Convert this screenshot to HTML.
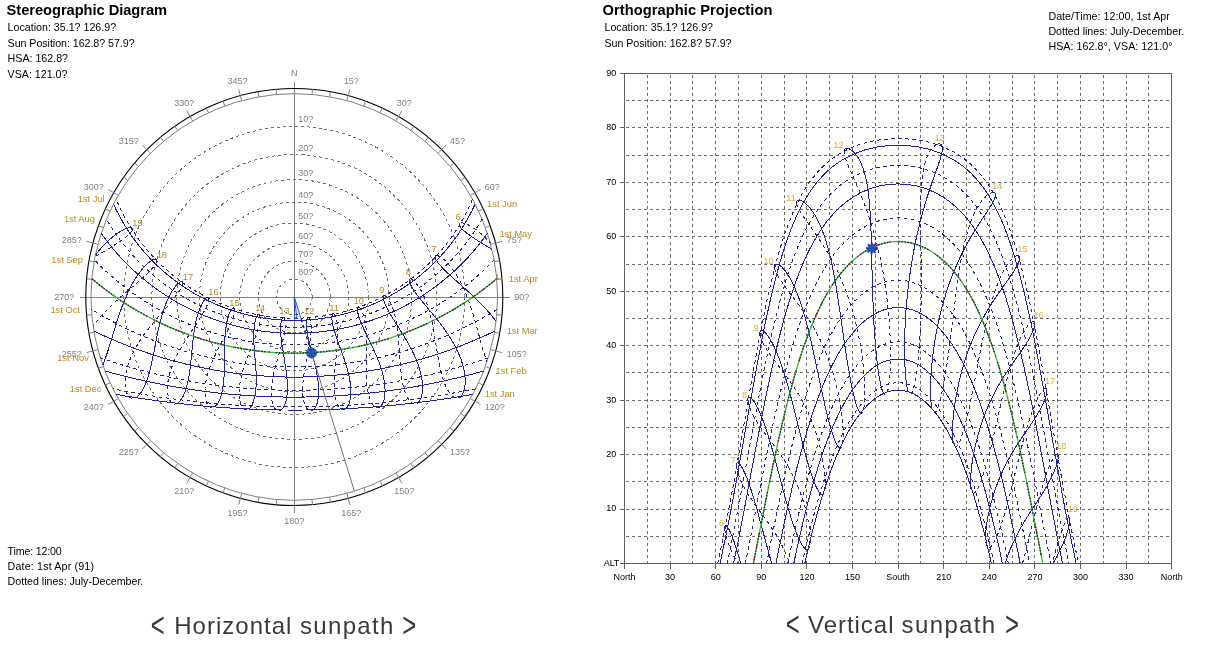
<!DOCTYPE html>
<html><head><meta charset="utf-8"><title>Sunpath</title>
<style>html,body{margin:0;padding:0;background:#fff;overflow:hidden}svg{display:block;font-family:"Liberation Sans",sans-serif;}</style></head><body>
<svg width="1217" height="672" viewBox="0 0 1217 672">
<rect width="1217" height="672" fill="#fff"/>
<text x="6.6" y="15" font-size="14.67" fill="#000" text-anchor="start" font-weight="bold" textLength="160.5">Stereographic Diagram</text>
<text x="7.6" y="30.9" font-size="10.67" fill="#000" text-anchor="start" font-weight="normal" textLength="108.5">Location: 35.1? 126.9?</text>
<text x="7.6" y="46.5" font-size="10.67" fill="#000" text-anchor="start" font-weight="normal" textLength="127">Sun Position: 162.8? 57.9?</text>
<text x="7.6" y="62" font-size="10.67" fill="#000" text-anchor="start" font-weight="normal" >HSA: 162.8?</text>
<text x="7.6" y="77.6" font-size="10.67" fill="#000" text-anchor="start" font-weight="normal" >VSA: 121.0?</text>
<text x="7.6" y="554.7" font-size="10.67" fill="#000" text-anchor="start" font-weight="normal" textLength="54">Time: 12:00</text>
<text x="7.6" y="569.7" font-size="10.67" fill="#000" text-anchor="start" font-weight="normal" textLength="86.4">Date: 1st Apr (91)</text>
<text x="7.6" y="584.7" font-size="10.67" fill="#000" text-anchor="start" font-weight="normal" textLength="135.7">Dotted lines: July-December.</text>
<text transform="translate(150.8,636.8) scale(1,1.46)" font-size="24" fill="#3a3a3a">&lt;</text>
<text x="174.2" y="633.8" font-size="24" fill="#3a3a3a" text-anchor="start" font-weight="normal" textLength="117.2" lengthAdjust="spacing">Horizontal</text>
<text x="299.9" y="633.8" font-size="24" fill="#3a3a3a" text-anchor="start" font-weight="normal" textLength="93.5" lengthAdjust="spacing">sunpath</text>
<text transform="translate(402.2,636.8) scale(1,1.46)" font-size="24" fill="#3a3a3a">&gt;</text>
<g fill="none" stroke="#707070" stroke-width="1" stroke-dasharray="3 3" shape-rendering="crispEdges">
<circle cx="294.3" cy="297" r="170.6"/>
<circle cx="294.3" cy="297" r="142.4"/>
<circle cx="294.3" cy="297" r="117.4"/>
<circle cx="294.3" cy="297" r="94.8"/>
<circle cx="294.3" cy="297" r="74"/>
<circle cx="294.3" cy="297" r="54.5"/>
<circle cx="294.3" cy="297" r="35.8"/>
<circle cx="294.3" cy="297" r="17.8"/>
</g>
<g stroke="#808080" stroke-width="1" shape-rendering="crispEdges">
<line x1="294.3" y1="81.5" x2="294.3" y2="513"/>
<line x1="79.5" y1="297" x2="510" y2="297"/>
</g>
<circle cx="294.3" cy="297" r="203.3" fill="none" stroke="#808080" stroke-width="1"/>
<circle cx="294.3" cy="297" r="208.5" fill="none" stroke="#000" stroke-width="1.1"/>
<g stroke="#808080" stroke-width="1">
<line x1="312.0" y1="94.5" x2="312.5" y2="89.3"/>
<line x1="329.6" y1="96.8" x2="330.5" y2="91.7"/>
<line x1="346.9" y1="100.6" x2="349.9" y2="89.3"/>
<line x1="363.8" y1="106.0" x2="365.6" y2="101.1"/>
<line x1="380.2" y1="112.7" x2="382.4" y2="108.0"/>
<line x1="395.9" y1="120.9" x2="401.8" y2="110.8"/>
<line x1="410.9" y1="130.5" x2="413.9" y2="126.2"/>
<line x1="425.0" y1="141.3" x2="428.3" y2="137.3"/>
<line x1="438.1" y1="153.2" x2="446.3" y2="145.0"/>
<line x1="450.0" y1="166.3" x2="454.0" y2="163.0"/>
<line x1="460.8" y1="180.4" x2="465.1" y2="177.4"/>
<line x1="470.4" y1="195.3" x2="480.5" y2="189.5"/>
<line x1="478.6" y1="211.1" x2="483.3" y2="208.9"/>
<line x1="485.3" y1="227.5" x2="490.2" y2="225.7"/>
<line x1="490.7" y1="244.4" x2="502.0" y2="241.4"/>
<line x1="494.5" y1="261.7" x2="499.6" y2="260.8"/>
<line x1="496.8" y1="279.3" x2="502.0" y2="278.8"/>
<line x1="496.8" y1="314.7" x2="502.0" y2="315.2"/>
<line x1="494.5" y1="332.3" x2="499.6" y2="333.2"/>
<line x1="490.7" y1="349.6" x2="502.0" y2="352.6"/>
<line x1="485.3" y1="366.5" x2="490.2" y2="368.3"/>
<line x1="478.6" y1="382.9" x2="483.3" y2="385.1"/>
<line x1="470.4" y1="398.6" x2="480.5" y2="404.5"/>
<line x1="460.8" y1="413.6" x2="465.1" y2="416.6"/>
<line x1="450.0" y1="427.7" x2="454.0" y2="431.0"/>
<line x1="438.1" y1="440.8" x2="446.3" y2="449.0"/>
<line x1="425.0" y1="452.7" x2="428.3" y2="456.7"/>
<line x1="410.9" y1="463.5" x2="413.9" y2="467.8"/>
<line x1="395.9" y1="473.1" x2="401.8" y2="483.2"/>
<line x1="380.2" y1="481.3" x2="382.4" y2="486.0"/>
<line x1="363.8" y1="488.0" x2="365.6" y2="492.9"/>
<line x1="346.9" y1="493.4" x2="349.9" y2="504.7"/>
<line x1="329.6" y1="497.2" x2="330.5" y2="502.3"/>
<line x1="312.0" y1="499.5" x2="312.5" y2="504.7"/>
<line x1="276.6" y1="499.5" x2="276.1" y2="504.7"/>
<line x1="259.0" y1="497.2" x2="258.1" y2="502.3"/>
<line x1="241.7" y1="493.4" x2="238.7" y2="504.7"/>
<line x1="224.8" y1="488.0" x2="223.0" y2="492.9"/>
<line x1="208.4" y1="481.3" x2="206.2" y2="486.0"/>
<line x1="192.6" y1="473.1" x2="186.8" y2="483.2"/>
<line x1="177.7" y1="463.5" x2="174.7" y2="467.8"/>
<line x1="163.6" y1="452.7" x2="160.3" y2="456.7"/>
<line x1="150.5" y1="440.8" x2="142.3" y2="449.0"/>
<line x1="138.6" y1="427.7" x2="134.6" y2="431.0"/>
<line x1="127.8" y1="413.6" x2="123.5" y2="416.6"/>
<line x1="118.2" y1="398.7" x2="108.1" y2="404.5"/>
<line x1="110.0" y1="382.9" x2="105.3" y2="385.1"/>
<line x1="103.3" y1="366.5" x2="98.4" y2="368.3"/>
<line x1="97.9" y1="349.6" x2="86.6" y2="352.6"/>
<line x1="94.1" y1="332.3" x2="89.0" y2="333.2"/>
<line x1="91.8" y1="314.7" x2="86.6" y2="315.2"/>
<line x1="91.8" y1="279.3" x2="86.6" y2="278.8"/>
<line x1="94.1" y1="261.7" x2="89.0" y2="260.8"/>
<line x1="97.9" y1="244.4" x2="86.6" y2="241.4"/>
<line x1="103.3" y1="227.5" x2="98.4" y2="225.7"/>
<line x1="110.0" y1="211.1" x2="105.3" y2="208.9"/>
<line x1="118.2" y1="195.3" x2="108.1" y2="189.5"/>
<line x1="127.8" y1="180.4" x2="123.5" y2="177.4"/>
<line x1="138.6" y1="166.3" x2="134.6" y2="163.0"/>
<line x1="150.5" y1="153.2" x2="142.3" y2="145.0"/>
<line x1="163.6" y1="141.3" x2="160.3" y2="137.3"/>
<line x1="177.7" y1="130.5" x2="174.7" y2="126.2"/>
<line x1="192.6" y1="120.9" x2="186.8" y2="110.8"/>
<line x1="208.4" y1="112.7" x2="206.2" y2="108.0"/>
<line x1="224.8" y1="106.0" x2="223.0" y2="101.1"/>
<line x1="241.7" y1="100.6" x2="238.7" y2="89.3"/>
<line x1="259.0" y1="96.8" x2="258.1" y2="91.7"/>
<line x1="276.6" y1="94.5" x2="276.1" y2="89.3"/>
</g>
<g font-size="9" fill="#808080">
<text x="294.3" y="76.0" text-anchor="middle">N</text>
<text x="351.2" y="83.5" text-anchor="middle">15?</text>
<text x="404.3" y="105.5" text-anchor="middle">30?</text>
<text x="449.9" y="144.2" text-anchor="start">45?</text>
<text x="484.8" y="189.8" text-anchor="start">60?</text>
<text x="506.8" y="242.9" text-anchor="start">75?</text>
<text x="514.3" y="299.8" text-anchor="start">90?</text>
<text x="506.8" y="356.7" text-anchor="start">105?</text>
<text x="484.8" y="409.8" text-anchor="start">120?</text>
<text x="449.9" y="455.4" text-anchor="start">135?</text>
<text x="404.3" y="494.4" text-anchor="middle">150?</text>
<text x="351.2" y="516.4" text-anchor="middle">165?</text>
<text x="294.3" y="523.9" text-anchor="middle">180?</text>
<text x="237.4" y="516.4" text-anchor="middle">195?</text>
<text x="184.3" y="494.4" text-anchor="middle">210?</text>
<text x="138.7" y="455.4" text-anchor="end">225?</text>
<text x="103.8" y="409.8" text-anchor="end">240?</text>
<text x="81.8" y="356.7" text-anchor="end">255?</text>
<text x="74.3" y="299.8" text-anchor="end">270?</text>
<text x="81.8" y="242.9" text-anchor="end">285?</text>
<text x="103.8" y="189.8" text-anchor="end">300?</text>
<text x="138.7" y="144.2" text-anchor="end">315?</text>
<text x="184.3" y="105.5" text-anchor="middle">330?</text>
<text x="237.4" y="83.5" text-anchor="middle">345?</text>
</g>
<g font-size="9" fill="#808080">
<text x="298.3" y="122.4">10?</text>
<text x="298.3" y="150.6">20?</text>
<text x="298.3" y="175.6">30?</text>
<text x="298.3" y="198.2">40?</text>
<text x="298.3" y="219.0">50?</text>
<text x="298.3" y="238.5">60?</text>
<text x="298.3" y="257.2">70?</text>
<text x="298.3" y="275.2">80?</text>
</g>
<g fill="none" stroke="#2020a0" stroke-width="1.0" shape-rendering="crispEdges">
<polyline points="472.8,394.3 465.7,395.6 458.8,396.7 452.1,397.8 445.5,398.8 439,399.7 432.8,400.6 426.6,401.4 420.6,402.2 414.6,402.9 408.8,403.6 403.1,404.2 397.5,404.8 391.9,405.4 386.5,405.9 381.1,406.4 375.8,406.8 370.5,407.2 365.3,407.6 360.2,407.9 355.1,408.2 350.1,408.5 345.1,408.8 340.2,409 335.2,409.2 330.3,409.4 325.5,409.6 320.7,409.7 315.8,409.8 311,409.9 306.2,410 301.5,410 296.7,410.1 291.9,410.1 287.1,410 282.4,410 277.6,409.9 272.8,409.8 267.9,409.7 263.1,409.6 258.3,409.4 253.4,409.2 248.4,409 243.5,408.8 238.5,408.5 233.5,408.2 228.4,407.9 223.3,407.6 218.1,407.2 212.8,406.8 207.5,406.4 202.1,405.9 196.7,405.4 191.1,404.8 185.5,404.2 179.8,403.6 174,402.9 168,402.2 162,401.4 155.8,400.6 149.6,399.7 143.1,398.8 136.5,397.8 129.8,396.7 122.9,395.6 115.8,394.3" />
<polyline points="483.6,371 476.4,373 469.4,374.9 462.5,376.6 455.8,378.2 449.3,379.7 442.9,381.2 436.6,382.5 430.5,383.7 424.5,384.9 418.6,386 412.8,387 407.1,388 401.5,388.9 396,389.7 390.5,390.5 385.2,391.2 379.9,391.9 374.7,392.5 369.5,393.1 364.4,393.6 359.4,394.1 354.3,394.5 349.4,394.9 344.5,395.3 339.6,395.6 334.7,395.9 329.9,396.2 325.1,396.4 320.3,396.6 315.6,396.8 310.8,396.9 306.1,397 301.4,397.1 296.7,397.1 291.9,397.1 287.2,397.1 282.5,397 277.8,396.9 273,396.8 268.3,396.6 263.5,396.4 258.7,396.2 253.9,395.9 249,395.6 244.1,395.3 239.2,394.9 234.3,394.5 229.2,394.1 224.2,393.6 219.1,393.1 213.9,392.5 208.7,391.9 203.4,391.2 198.1,390.5 192.6,389.7 187.1,388.9 181.5,388 175.8,387 170,386 164.1,384.9 158.1,383.7 152,382.5 145.7,381.2 139.3,379.7 132.8,378.2 126.1,376.6 119.2,374.9 112.2,373 105,371" />
<polyline points="494.7,331.1 487.8,334.4 481,337.4 474.3,340.3 467.8,343 461.5,345.6 455.2,348 449.1,350.2 443.1,352.3 437.2,354.3 431.4,356.1 425.7,357.9 420.1,359.5 414.6,361 409.2,362.4 403.9,363.8 398.6,365.1 393.4,366.2 388.3,367.3 383.2,368.4 378.2,369.3 373.3,370.2 368.4,371 363.5,371.8 358.7,372.5 353.9,373.2 349.2,373.7 344.5,374.3 339.9,374.8 335.2,375.2 330.6,375.6 326,375.9 321.5,376.2 316.9,376.5 312.4,376.7 307.8,376.8 303.3,377 298.8,377 294.3,377 289.8,377 285.3,377 280.8,376.8 276.2,376.7 271.7,376.5 267.1,376.2 262.6,375.9 258,375.6 253.4,375.2 248.7,374.8 244.1,374.3 239.4,373.7 234.7,373.2 229.9,372.5 225.1,371.8 220.2,371 215.3,370.2 210.4,369.3 205.4,368.4 200.3,367.3 195.2,366.2 190,365.1 184.7,363.8 179.4,362.4 174,361 168.5,359.5 162.9,357.9 157.2,356.1 151.4,354.3 145.5,352.3 139.5,350.2 133.4,348 127.1,345.6 120.8,343 114.3,340.3 107.6,337.4 100.8,334.4 93.9,331.1" />
<polyline points="487.4,233.4 482.9,239.5 478.4,245.3 473.9,250.8 469.3,256 464.7,260.9 460,265.6 455.4,270 450.8,274.2 446.2,278.1 441.6,281.9 437,285.5 432.4,288.8 427.9,292 423.3,295 418.8,297.9 414.4,300.6 409.9,303.2 405.5,305.6 401.1,307.9 396.7,310 392.4,312 388.1,314 383.8,315.8 379.5,317.5 375.3,319 371.1,320.5 366.9,321.9 362.7,323.2 358.6,324.4 354.5,325.6 350.4,326.6 346.3,327.6 342.2,328.4 338.2,329.2 334.1,330 330.1,330.6 326.1,331.2 322.1,331.7 318.1,332.1 314.1,332.5 310.2,332.8 306.2,333 302.2,333.2 298.3,333.3 294.3,333.3 290.3,333.3 286.4,333.2 282.4,333 278.4,332.8 274.5,332.5 270.5,332.1 266.5,331.7 262.5,331.2 258.5,330.6 254.5,330 250.4,329.2 246.4,328.4 242.3,327.6 238.2,326.6 234.1,325.6 230,324.4 225.9,323.2 221.7,321.9 217.5,320.5 213.3,319 209.1,317.5 204.8,315.8 200.5,314 196.2,312 191.9,310 187.5,307.9 183.1,305.6 178.7,303.2 174.2,300.6 169.8,297.9 165.3,295 160.7,292 156.2,288.8 151.6,285.5 147,281.9 142.4,278.1 137.8,274.2 133.2,270 128.6,265.6 123.9,260.9 119.3,256 114.7,250.8 110.2,245.3 105.7,239.5 101.2,233.4" />
<polyline points="475.1,204.1 472,210.7 468.7,216.9 465.3,222.9 461.8,228.6 458.2,234.1 454.5,239.3 450.8,244.2 447,248.9 443.2,253.4 439.3,257.6 435.4,261.7 431.4,265.6 427.5,269.2 423.5,272.7 419.5,276 415.5,279.2 411.5,282.2 407.6,285 403.6,287.7 399.6,290.2 395.6,292.7 391.7,294.9 387.7,297.1 383.8,299.1 379.9,301.1 376,302.9 372.1,304.6 368.2,306.2 364.3,307.7 360.4,309.1 356.6,310.4 352.7,311.6 348.9,312.8 345.1,313.8 341.3,314.8 337.5,315.7 333.7,316.5 329.9,317.2 326.2,317.9 322.4,318.4 318.6,318.9 314.9,319.4 311.1,319.7 307.4,320 303.6,320.2 299.9,320.4 296.2,320.4 292.4,320.4 288.7,320.4 285,320.2 281.2,320 277.5,319.7 273.7,319.4 270,318.9 266.2,318.4 262.4,317.9 258.7,317.2 254.9,316.5 251.1,315.7 247.3,314.8 243.5,313.8 239.7,312.8 235.9,311.6 232,310.4 228.2,309.1 224.3,307.7 220.4,306.2 216.5,304.6 212.6,302.9 208.7,301.1 204.8,299.1 200.9,297.1 196.9,294.9 193,292.7 189,290.2 185,287.7 181,285 177.1,282.2 173.1,279.2 169.1,276 165.1,272.7 161.1,269.2 157.2,265.6 153.2,261.7 149.3,257.6 145.4,253.4 141.6,248.9 137.8,244.2 134.1,239.3 130.4,234.1 126.8,228.6 123.3,222.9 119.9,216.9 116.6,210.7 113.5,204.1" />
<polyline points="472.5,199.2 469.6,205.8 466.6,212.1 463.4,218.2 460.1,223.9 456.7,229.4 453.2,234.7 449.7,239.7 446,244.5 442.3,249 438.6,253.4 434.8,257.5 431,261.4 427.2,265.2 423.3,268.7 419.5,272.1 415.6,275.3 411.7,278.4 407.8,281.3 403.9,284.1 400,286.7 396.1,289.2 392.2,291.5 388.4,293.7 384.5,295.8 380.6,297.8 376.8,299.7 372.9,301.5 369.1,303.1 365.3,304.7 361.5,306.2 357.7,307.5 353.9,308.8 350.1,310 346.3,311.1 342.6,312.1 338.8,313 335.1,313.9 331.4,314.6 327.6,315.3 323.9,315.9 320.2,316.5 316.5,316.9 312.8,317.3 309.1,317.7 305.4,317.9 301.7,318.1 298,318.2 294.3,318.2 290.6,318.2 286.9,318.1 283.2,317.9 279.5,317.7 275.8,317.3 272.1,316.9 268.4,316.5 264.7,315.9 261,315.3 257.2,314.6 253.5,313.9 249.8,313 246,312.1 242.3,311.1 238.5,310 234.7,308.8 230.9,307.5 227.1,306.2 223.3,304.7 219.5,303.1 215.7,301.5 211.8,299.7 208,297.8 204.1,295.8 200.2,293.7 196.4,291.5 192.5,289.2 188.6,286.7 184.7,284.1 180.8,281.3 176.9,278.4 173,275.3 169.1,272.1 165.3,268.7 161.4,265.2 157.6,261.4 153.8,257.5 150,253.4 146.3,249 142.6,244.5 138.9,239.7 135.4,234.7 131.9,229.4 128.5,223.9 125.2,218.2 122,212.1 119,205.8 116.1,199.2" stroke-dasharray="3.6 3.4"/>
<polyline points="482.2,219.3 478.3,225.7 474.3,231.7 470.3,237.5 466.2,243 462,248.2 457.8,253.1 453.5,257.8 449.3,262.3 445,266.5 440.7,270.5 436.4,274.4 432.1,278 427.8,281.4 423.5,284.7 419.2,287.7 414.9,290.7 410.7,293.4 406.4,296 402.2,298.5 398,300.9 393.8,303.1 389.6,305.2 385.5,307.1 381.4,309 377.3,310.7 373.2,312.4 369.1,313.9 365,315.3 361,316.7 357,317.9 353,319.1 349,320.2 345,321.2 341.1,322.1 337.1,322.9 333.2,323.7 329.3,324.3 325.4,324.9 321.5,325.5 317.6,325.9 313.7,326.3 309.8,326.6 305.9,326.8 302,327 298.2,327.1 294.3,327.2 290.4,327.1 286.6,327 282.7,326.8 278.8,326.6 274.9,326.3 271,325.9 267.1,325.5 263.2,324.9 259.3,324.3 255.4,323.7 251.5,322.9 247.5,322.1 243.6,321.2 239.6,320.2 235.6,319.1 231.6,317.9 227.6,316.7 223.6,315.3 219.5,313.9 215.4,312.4 211.3,310.7 207.2,309 203.1,307.1 199,305.2 194.8,303.1 190.6,300.9 186.4,298.5 182.2,296 177.9,293.4 173.7,290.7 169.4,287.7 165.1,284.7 160.8,281.4 156.5,278 152.2,274.4 147.9,270.5 143.6,266.5 139.3,262.3 135.1,257.8 130.8,253.1 126.6,248.2 122.4,243 118.3,237.5 114.3,231.7 110.3,225.7 106.4,219.3" stroke-dasharray="3.6 3.4"/>
<polyline points="494.2,260 488.8,265.4 483.4,270.6 478,275.5 472.6,280.1 467.3,284.4 462,288.5 456.8,292.4 451.6,296.1 446.5,299.5 441.4,302.8 436.3,305.9 431.3,308.8 426.4,311.5 421.5,314.1 416.6,316.5 411.8,318.8 407.1,321 402.4,323 397.7,325 393.1,326.8 388.5,328.5 383.9,330.1 379.4,331.6 374.9,333 370.5,334.3 366.1,335.5 361.7,336.6 357.4,337.7 353,338.6 348.7,339.5 344.5,340.4 340.2,341.1 336,341.8 331.8,342.4 327.6,342.9 323.4,343.4 319.2,343.8 315,344.2 310.9,344.4 306.7,344.6 302.6,344.8 298.4,344.9 294.3,344.9 290.2,344.9 286,344.8 281.9,344.6 277.7,344.4 273.6,344.2 269.4,343.8 265.2,343.4 261,342.9 256.8,342.4 252.6,341.8 248.4,341.1 244.1,340.4 239.9,339.5 235.6,338.6 231.2,337.7 226.9,336.6 222.5,335.5 218.1,334.3 213.7,333 209.2,331.6 204.7,330.1 200.1,328.5 195.5,326.8 190.9,325 186.2,323 181.5,321 176.8,318.8 172,316.5 167.1,314.1 162.2,311.5 157.3,308.8 152.3,305.9 147.2,302.8 142.1,299.5 137,296.1 131.8,292.4 126.6,288.5 121.3,284.4 116,280.1 110.6,275.5 105.2,270.6 99.8,265.4 94.4,260" stroke-dasharray="3.6 3.4"/>
<polyline points="497.2,309.4 490.6,313.4 484,317.2 477.6,320.7 471.3,324 465.2,327.1 459.1,330.1 453.1,332.8 447.3,335.4 441.5,337.8 435.9,340.1 430.3,342.2 424.8,344.3 419.4,346.1 414.1,347.9 408.8,349.6 403.6,351.2 398.5,352.6 393.5,354 388.5,355.3 383.5,356.5 378.6,357.6 373.8,358.7 369,359.6 364.3,360.5 359.6,361.4 354.9,362.2 350.3,362.9 345.7,363.5 341.1,364.1 336.6,364.6 332.1,365.1 327.6,365.5 323.1,365.9 318.6,366.2 314.2,366.4 309.8,366.6 305.3,366.8 300.9,366.9 296.5,366.9 292.1,366.9 287.7,366.9 283.3,366.8 278.8,366.6 274.4,366.4 270,366.2 265.5,365.9 261,365.5 256.5,365.1 252,364.6 247.5,364.1 242.9,363.5 238.3,362.9 233.7,362.2 229,361.4 224.3,360.5 219.6,359.6 214.8,358.7 210,357.6 205.1,356.5 200.1,355.3 195.1,354 190.1,352.6 185,351.2 179.8,349.6 174.5,347.9 169.2,346.1 163.8,344.3 158.3,342.2 152.7,340.1 147.1,337.8 141.3,335.4 135.5,332.8 129.5,330.1 123.4,327.1 117.3,324 111,320.7 104.6,317.2 98,313.4 91.4,309.4" stroke-dasharray="3.6 3.4"/>
<polyline points="488.3,357.9 481,360.3 474,362.6 467.1,364.7 460.4,366.7 453.9,368.6 447.5,370.3 441.2,371.9 435,373.5 429,374.9 423.1,376.2 417.3,377.5 411.6,378.6 406,379.7 400.4,380.8 395,381.7 389.6,382.6 384.3,383.4 379.1,384.2 373.9,384.9 368.8,385.6 363.8,386.2 358.8,386.8 353.8,387.3 348.9,387.8 344,388.2 339.2,388.6 334.4,388.9 329.6,389.2 324.9,389.5 320.1,389.7 315.4,389.9 310.7,390 306,390.2 301.3,390.2 296.6,390.3 292,390.3 287.3,390.2 282.6,390.2 277.9,390 273.2,389.9 268.5,389.7 263.7,389.5 259,389.2 254.2,388.9 249.4,388.6 244.6,388.2 239.7,387.8 234.8,387.3 229.8,386.8 224.8,386.2 219.8,385.6 214.7,384.9 209.5,384.2 204.3,383.4 199,382.6 193.6,381.7 188.2,380.8 182.6,379.7 177,378.6 171.3,377.5 165.5,376.2 159.6,374.9 153.6,373.5 147.4,371.9 141.1,370.3 134.7,368.6 128.2,366.7 121.5,364.7 114.6,362.6 107.6,360.3 100.3,357.9" stroke-dasharray="3.6 3.4"/>
<polyline points="475.7,388.8 468.5,390.2 461.6,391.6 454.8,392.8 448.2,393.9 441.7,395 435.4,396 429.2,397 423.1,397.8 417.2,398.7 411.3,399.4 405.6,400.1 399.9,400.8 394.4,401.4 388.9,402 383.5,402.6 378.2,403.1 372.9,403.5 367.7,404 362.6,404.4 357.5,404.7 352.5,405.1 347.5,405.4 342.5,405.6 337.6,405.9 332.7,406.1 327.8,406.3 323,406.5 318.2,406.6 313.4,406.7 308.6,406.8 303.8,406.9 299.1,406.9 294.3,406.9 289.5,406.9 284.8,406.9 280,406.8 275.2,406.7 270.4,406.6 265.6,406.5 260.8,406.3 255.9,406.1 251,405.9 246.1,405.6 241.1,405.4 236.1,405.1 231.1,404.7 226,404.4 220.9,404 215.7,403.5 210.4,403.1 205.1,402.6 199.7,402 194.2,401.4 188.7,400.8 183,400.1 177.3,399.4 171.4,398.7 165.5,397.8 159.4,397 153.2,396 146.9,395 140.4,393.9 133.8,392.8 127,391.6 120.1,390.2 112.9,388.8" stroke-dasharray="3.6 3.4"/>
<polyline points="491.9,249.4 490.3,248.4 488.2,247.1 486.2,245.9 484.3,244.8 482.4,243.6 480.6,242.5 478.9,241.4 477.2,240.3 475.6,239.3 474.1,238.3 472.6,237.3 471.3,236.4 469.9,235.4 468.7,234.5 467.5,233.7 466.4,232.8 465.4,232 464.5,231.2 463.6,230.5 462.8,229.7 462.1,229 461.5,228.4 460.9,227.7 460.4,227.1 460,226.6 459.7,226 459.4,225.5 459.2,225.1 459.1,224.7 459.1,224.3 459.1,223.9 459.3,223.6 459.5,223.4 459.7,223.2 460.1,223 460.5,222.9" stroke-width="1.0"/>
<polyline points="460.6,222.9 461.1,222.8 461.7,222.9 462.4,222.9 463.1,223.1 463.9,223.2 464.7,223.5 465.6,223.8 466.6,224.2 467.6,224.6 468.7,225.1 469.8,225.7 471,226.4 472.2,227.1 473.5,227.9 474.8,228.8 476.2,229.8 477.6,230.8 479,231.9 480.4,233.1 481.9,234.4 483.4,235.8 484.9,237.2 486.5,238.8 488,240.4 489.6,242.1 490.3,242.9" stroke-dasharray="3.6 3.4"/>
<polyline points="496.1,321.4 495.2,320.1 493.5,317.9 491.7,315.8 490,313.6 488.2,311.6 486.4,309.5 484.6,307.6 482.7,305.6 480.9,303.7 479.1,301.9 477.2,300 475.4,298.3 473.6,296.5 471.8,294.9 470,293.2 468.2,291.6 466.5,290 464.8,288.5 463.1,287 461.5,285.5 459.9,284.1 458.3,282.7 456.8,281.3 455.3,280 453.9,278.7 452.5,277.5 451.1,276.2 449.8,275 448.6,273.9 447.4,272.7 446.2,271.6 445.1,270.5 444.1,269.5 443.1,268.5 442.1,267.5 441.3,266.6 440.4,265.6 439.7,264.8 439,263.9 438.3,263.1 437.7,262.3 437.2,261.6 436.7,260.9 436.3,260.2 435.9,259.6 435.6,259 435.4,258.4 435.2,257.9 435.1,257.5 435,257.1 435,256.7 435.1,256.4 435.2,256.1 435.3,255.9 435.5,255.7 435.8,255.6 436.1,255.5 436.5,255.5" stroke-width="1.0"/>
<polyline points="436.6,255.5 437,255.6 437.5,255.7 438,255.8 438.6,256.1 439.2,256.4 439.8,256.7 440.5,257.1 441.3,257.6 442,258.1 442.8,258.8 443.7,259.4 444.5,260.2 445.4,261 446.3,261.9 447.3,262.8 448.2,263.8 449.2,264.9 450.2,266.1 451.1,267.3 452.1,268.6 453.2,270 454.2,271.4 455.2,272.9 456.2,274.5 457.2,276.1 458.2,277.8 459.2,279.5 460.1,281.3 461.1,283.2 462.1,285.1 463,287.1 463.9,289.1 464.8,291.2 465.7,293.3 466.6,295.5 467.5,297.7 468.3,300 469.1,302.2 469.9,304.5 470.7,306.9 471.5,309.2 472.2,311.6 473,314 473.7,316.5 474.4,318.9 475.1,321.4 475.8,323.8 476.5,326.3 477.2,328.7 477.8,331.2 478.5,333.6 479.2,336.1 479.8,338.5 480.5,340.9 481.2,343.3 481.8,345.7 482.5,348 483.2,350.4 483.9,352.6 484.6,354.9 485.3,357.1 486,359.3 486.7,361.4 486.9,362" stroke-dasharray="3.6 3.4"/>
<polyline points="460.9,396.4 461.5,395.7 462.1,394.9 462.6,394 463.1,393.1 463.6,392 463.9,390.9 464.3,389.6 464.6,388.3 464.8,386.9 465,385.4 465.1,383.8 465.2,382.2 465.2,380.5 465.2,378.7 465,376.9 464.8,375.1 464.6,373.2 464.2,371.2 463.8,369.3 463.4,367.3 462.8,365.2 462.2,363.2 461.6,361.1 460.9,359.1 460.1,357 459.2,354.9 458.3,352.9 457.4,350.8 456.4,348.7 455.4,346.7 454.3,344.7 453.1,342.7 452,340.7 450.8,338.7 449.6,336.8 448.3,334.8 447.1,332.9 445.8,331.1 444.5,329.2 443.2,327.4 441.8,325.7 440.5,323.9 439.2,322.2 437.9,320.5 436.5,318.8 435.2,317.2 433.9,315.6 432.7,314.1 431.4,312.5 430.2,311 428.9,309.6 427.7,308.1 426.6,306.7 425.4,305.3 424.3,304 423.2,302.6 422.2,301.3 421.2,300.1 420.2,298.9 419.2,297.7 418.3,296.5 417.5,295.3 416.6,294.2 415.8,293.2 415.1,292.1 414.4,291.1 413.8,290.1 413.1,289.2 412.6,288.3 412,287.4 411.6,286.6 411.1,285.8 410.7,285 410.4,284.3 410.1,283.6 409.8,283 409.6,282.4 409.5,281.9 409.3,281.4 409.2,280.9 409.2,280.5 409.2,280.1 409.3,279.8 409.4,279.5 409.5,279.3 409.7,279.1 409.9,279 410.1,278.9 410.4,278.9 410.7,279" stroke-width="1.0"/>
<polyline points="410.8,279 411.2,279.1 411.5,279.3 412,279.5 412.4,279.8 412.9,280.2 413.4,280.6 413.9,281 414.5,281.5 415.1,282.1 415.7,282.8 416.3,283.5 416.9,284.2 417.5,285.1 418.2,286 418.8,286.9 419.5,287.9 420.1,289 420.8,290.1 421.5,291.3 422.1,292.5 422.8,293.8 423.4,295.2 424.1,296.6 424.7,298.1 425.3,299.6 425.9,301.1 426.5,302.7 427.1,304.4 427.7,306.1 428.3,307.9 428.8,309.6 429.3,311.5 429.8,313.3 430.3,315.2 430.8,317.2 431.3,319.1 431.7,321.1 432.2,323.1 432.6,325.1 433,327.2 433.4,329.3 433.8,331.3 434.1,333.4 434.5,335.6 434.8,337.7 435.2,339.8 435.5,341.9 435.9,344 436.2,346.2 436.6,348.3 436.9,350.4 437.3,352.5 437.6,354.6 438,356.7 438.3,358.7 438.7,360.8 439.1,362.8 439.5,364.8 439.9,366.7 440.3,368.7 440.8,370.6 441.2,372.4 441.7,374.2 442.2,376 442.7,377.7 443.2,379.4 443.8,381.1 444.3,382.6 444.9,384.2 445.5,385.6 446.1,387 446.7,388.3 447.4,389.6 448.1,390.8 448.7,391.9 449.4,392.9 450.1,393.9 450.8,394.7 451.6,395.5 452.3,396.2 453,396.7 453.8,397.2 454.5,397.6 455.3,397.9 456,398.1 456.7,398.2 457.4,398.2 458.1,398 458.8,397.8 459.5,397.5 460.2,397.1 460.8,396.5" stroke-dasharray="3.6 3.4"/>
<polyline points="418.2,402.5 418.7,402 419.2,401.3 419.7,400.6 420.1,399.8 420.6,398.9 420.9,397.9 421.3,396.9 421.6,395.7 421.9,394.5 422.1,393.3 422.3,392 422.4,390.6 422.5,389.1 422.5,387.6 422.5,386.1 422.4,384.5 422.3,382.8 422.1,381.2 421.9,379.5 421.6,377.7 421.3,376 420.9,374.2 420.5,372.4 420,370.6 419.5,368.7 418.9,366.9 418.3,365.1 417.6,363.2 416.9,361.4 416.2,359.6 415.4,357.7 414.6,355.9 413.8,354.1 412.9,352.3 412.1,350.5 411.1,348.8 410.2,347 409.3,345.3 408.3,343.6 407.4,341.9 406.4,340.2 405.4,338.6 404.4,337 403.5,335.4 402.5,333.8 401.5,332.2 400.6,330.7 399.6,329.2 398.7,327.7 397.8,326.3 396.8,324.8 396,323.4 395.1,322.1 394.3,320.7 393.4,319.4 392.6,318.1 391.9,316.8 391.1,315.6 390.4,314.4 389.7,313.2 389.1,312.1 388.5,311 387.9,309.9 387.3,308.8 386.8,307.8 386.3,306.8 385.9,305.9 385.5,305 385.1,304.1 384.7,303.2 384.4,302.4 384.1,301.7 383.9,301 383.7,300.3 383.5,299.6 383.4,299 383.3,298.5 383.2,298 383.2,297.5 383.2,297.1 383.2,296.7 383.2,296.4 383.3,296.1 383.4,295.9 383.6,295.7 383.8,295.6 384,295.5 384.2,295.5 384.4,295.5 384.7,295.6" stroke-width="1.0"/>
<polyline points="384.8,295.6 385.1,295.8 385.4,296 385.8,296.2 386.1,296.6 386.5,296.9 386.9,297.4 387.3,297.8 387.7,298.4 388.1,299 388.6,299.6 389,300.3 389.4,301.1 389.9,301.9 390.3,302.8 390.8,303.7 391.2,304.7 391.7,305.7 392.1,306.8 392.5,307.9 392.9,309.1 393.3,310.3 393.7,311.6 394.1,312.9 394.5,314.3 394.9,315.7 395.2,317.1 395.5,318.6 395.9,320.1 396.2,321.7 396.5,323.3 396.7,324.9 397,326.6 397.2,328.2 397.5,330 397.7,331.7 397.9,333.5 398,335.2 398.2,337 398.4,338.9 398.5,340.7 398.7,342.5 398.8,344.4 398.9,346.3 399.1,348.2 399.2,350 399.3,351.9 399.4,353.8 399.6,355.7 399.7,357.6 399.8,359.5 399.9,361.3 400.1,363.2 400.2,365.1 400.4,366.9 400.6,368.7 400.8,370.5 401,372.3 401.2,374.1 401.4,375.8 401.7,377.5 401.9,379.2 402.2,380.9 402.5,382.5 402.9,384.1 403.2,385.6 403.6,387.1 404,388.5 404.4,390 404.8,391.3 405.3,392.6 405.7,393.8 406.2,395 406.7,396.1 407.3,397.2 407.8,398.2 408.4,399.1 408.9,400 409.5,400.7 410.1,401.4 410.7,402 411.3,402.6 412,403 412.6,403.4 413.2,403.6 413.8,403.8 414.5,403.9 415.1,403.9 415.7,403.9 416.3,403.7 416.9,403.4 417.5,403.1 418,402.6" stroke-dasharray="3.6 3.4"/>
<polyline points="380.5,406.4 380.9,405.9 381.4,405.4 381.9,404.8 382.3,404 382.7,403.3 383.1,402.4 383.5,401.5 383.8,400.5 384.1,399.4 384.3,398.3 384.5,397.1 384.7,395.9 384.8,394.6 384.9,393.3 385,391.9 385,390.5 385,389 384.9,387.5 384.8,386 384.7,384.4 384.5,382.9 384.2,381.3 383.9,379.6 383.6,378 383.3,376.3 382.9,374.6 382.4,373 382,371.3 381.5,369.6 381,367.9 380.4,366.2 379.8,364.5 379.2,362.8 378.6,361.2 377.9,359.5 377.3,357.9 376.6,356.2 375.9,354.6 375.2,353 374.4,351.4 373.7,349.8 373,348.2 372.3,346.6 371.5,345.1 370.8,343.6 370.1,342.1 369.4,340.6 368.7,339.2 368,337.7 367.3,336.3 366.6,334.9 365.9,333.6 365.3,332.2 364.7,330.9 364.1,329.6 363.5,328.4 363,327.1 362.4,325.9 361.9,324.8 361.4,323.6 361,322.5 360.5,321.4 360.1,320.3 359.8,319.3 359.4,318.3 359.1,317.4 358.8,316.5 358.5,315.6 358.3,314.7 358.1,313.9 357.9,313.1 357.7,312.4 357.6,311.7 357.5,311 357.4,310.4 357.4,309.9 357.4,309.3 357.4,308.9 357.4,308.4 357.4,308.1 357.5,307.7 357.6,307.4 357.7,307.2 357.9,307 358,306.9 358.2,306.8 358.4,306.7 358.6,306.7 358.8,306.8 359.1,306.9" stroke-width="1.0"/>
<polyline points="359.1,306.9 359.4,307.1 359.7,307.4 359.9,307.6 360.2,308 360.5,308.4 360.8,308.8 361.1,309.3 361.4,309.9 361.7,310.4 362,311.1 362.3,311.8 362.6,312.5 362.9,313.3 363.2,314.2 363.5,315.1 363.8,316 364.1,317 364.3,318 364.6,319.1 364.8,320.2 365,321.4 365.3,322.6 365.5,323.8 365.6,325.1 365.8,326.4 366,327.8 366.1,329.2 366.2,330.6 366.3,332 366.4,333.5 366.5,335 366.5,336.5 366.6,338.1 366.6,339.6 366.6,341.2 366.6,342.9 366.6,344.5 366.6,346.1 366.6,347.8 366.6,349.5 366.5,351.2 366.5,352.9 366.5,354.6 366.4,356.3 366.4,358 366.3,359.7 366.3,361.5 366.2,363.2 366.2,364.9 366.2,366.6 366.2,368.3 366.2,370 366.2,371.7 366.2,373.4 366.3,375.1 366.3,376.7 366.4,378.4 366.5,380 366.6,381.6 366.7,383.1 366.9,384.7 367,386.2 367.2,387.7 367.4,389.1 367.7,390.6 367.9,391.9 368.2,393.3 368.5,394.6 368.9,395.8 369.2,397 369.6,398.1 370,399.2 370.4,400.3 370.8,401.2 371.3,402.2 371.8,403 372.2,403.8 372.7,404.5 373.3,405.2 373.8,405.7 374.3,406.2 374.9,406.7 375.4,407 376,407.3 376.5,407.5 377.1,407.6 377.6,407.6 378.2,407.5 378.7,407.4 379.3,407.2 379.8,406.9 380.3,406.5" stroke-dasharray="3.6 3.4"/>
<polyline points="345.9,408.8 346.4,408.3 346.9,407.8 347.3,407.3 347.7,406.6 348.1,405.9 348.5,405.1 348.9,404.3 349.2,403.4 349.5,402.4 349.8,401.4 350,400.3 350.3,399.2 350.4,398 350.6,396.8 350.7,395.5 350.8,394.2 350.8,392.8 350.8,391.4 350.8,390 350.7,388.6 350.7,387.1 350.5,385.6 350.4,384.1 350.2,382.5 349.9,381 349.7,379.4 349.4,377.8 349,376.2 348.7,374.6 348.3,373 347.9,371.4 347.5,369.8 347,368.2 346.6,366.6 346.1,365 345.6,363.4 345.1,361.9 344.6,360.3 344.1,358.7 343.5,357.2 343,355.6 342.4,354.1 341.9,352.6 341.3,351.1 340.8,349.6 340.3,348.2 339.7,346.7 339.2,345.3 338.7,343.9 338.2,342.5 337.7,341.1 337.2,339.8 336.8,338.5 336.3,337.2 335.9,335.9 335.5,334.7 335.1,333.5 334.7,332.3 334.4,331.1 334.1,330 333.8,328.9 333.5,327.8 333.2,326.8 333,325.8 332.8,324.8 332.6,323.8 332.4,322.9 332.3,322.1 332.2,321.2 332.1,320.5 332,319.7 331.9,319 331.9,318.3 331.9,317.7 331.9,317.1 331.9,316.6 332,316.1 332,315.6 332.1,315.2 332.2,314.9 332.3,314.6 332.4,314.3 332.6,314.1 332.7,313.9 332.9,313.8 333.1,313.8 333.3,313.8 333.5,313.8 333.7,313.9 333.9,314" stroke-width="1.0"/>
<polyline points="333.9,314.1 334.1,314.3 334.4,314.5 334.6,314.8 334.8,315.2 335,315.6 335.2,316 335.5,316.5 335.7,317.1 335.9,317.7 336.1,318.3 336.3,319 336.5,319.7 336.7,320.5 336.9,321.3 337,322.2 337.2,323.1 337.3,324.1 337.4,325.1 337.5,326.1 337.6,327.2 337.7,328.3 337.8,329.4 337.8,330.6 337.9,331.8 337.9,333.1 337.9,334.4 337.8,335.7 337.8,337 337.8,338.4 337.7,339.8 337.6,341.2 337.5,342.6 337.4,344.1 337.3,345.5 337.1,347 337,348.6 336.8,350.1 336.7,351.6 336.5,353.2 336.3,354.8 336.2,356.3 336,357.9 335.8,359.5 335.6,361.1 335.4,362.7 335.3,364.4 335.1,366 334.9,367.6 334.8,369.2 334.6,370.8 334.5,372.4 334.4,374 334.3,375.6 334.2,377.2 334.1,378.8 334.1,380.3 334,381.9 334,383.4 334,384.9 334.1,386.4 334.1,387.9 334.2,389.3 334.3,390.7 334.5,392.1 334.6,393.4 334.8,394.7 335,396 335.2,397.2 335.5,398.4 335.8,399.5 336.1,400.6 336.4,401.7 336.8,402.7 337.1,403.6 337.5,404.5 337.9,405.3 338.4,406 338.8,406.7 339.3,407.3 339.7,407.9 340.2,408.4 340.7,408.8 341.2,409.1 341.7,409.4 342.2,409.6 342.8,409.7 343.3,409.8 343.8,409.7 344.3,409.6 344.8,409.4 345.3,409.2 345.8,408.8" stroke-dasharray="3.6 3.4"/>
<polyline points="313.2,409.9 313.7,409.5 314.1,409 314.6,408.5 315,407.9 315.4,407.2 315.8,406.5 316.2,405.7 316.5,404.8 316.9,403.9 317.2,402.9 317.4,401.9 317.7,400.8 317.9,399.7 318.1,398.5 318.3,397.3 318.4,396.1 318.5,394.8 318.6,393.4 318.6,392.1 318.6,390.7 318.6,389.3 318.6,387.8 318.5,386.4 318.4,384.9 318.3,383.4 318.1,381.9 317.9,380.3 317.7,378.8 317.5,377.2 317.2,375.7 316.9,374.1 316.6,372.6 316.3,371 316,369.4 315.7,367.9 315.3,366.3 314.9,364.7 314.6,363.2 314.2,361.6 313.8,360.1 313.4,358.6 313,357.1 312.6,355.6 312.2,354.1 311.8,352.6 311.4,351.2 311.1,349.7 310.7,348.3 310.3,346.9 310,345.5 309.7,344.1 309.3,342.8 309,341.5 308.7,340.2 308.4,338.9 308.2,337.7 307.9,336.5 307.7,335.3 307.5,334.1 307.3,333 307.1,331.9 307,330.8 306.9,329.8 306.7,328.8 306.6,327.8 306.6,326.9 306.5,326 306.5,325.1 306.5,324.3 306.5,323.6 306.5,322.8 306.5,322.1 306.6,321.5 306.6,320.9 306.7,320.3 306.8,319.8 306.9,319.3 307,318.9 307.1,318.5 307.3,318.2 307.4,317.9 307.6,317.7 307.7,317.5 307.9,317.3 308.1,317.3 308.3,317.2 308.4,317.2 308.6,317.3 308.8,317.4 309,317.6" stroke-width="1.0"/>
<polyline points="309,317.6 309.2,317.8 309.4,318.1 309.6,318.4 309.8,318.8 309.9,319.2 310.1,319.7 310.2,320.2 310.4,320.7 310.5,321.3 310.6,322 310.7,322.7 310.8,323.4 310.9,324.2 311,325 311,325.8 311.1,326.7 311.1,327.7 311.1,328.6 311.1,329.7 311.1,330.7 311,331.8 310.9,332.9 310.9,334 310.7,335.2 310.6,336.4 310.5,337.6 310.3,338.9 310.2,340.2 310,341.5 309.8,342.8 309.5,344.2 309.3,345.5 309.1,346.9 308.8,348.4 308.5,349.8 308.3,351.2 308,352.7 307.7,354.2 307.4,355.7 307.1,357.2 306.8,358.7 306.4,360.2 306.1,361.8 305.8,363.3 305.5,364.8 305.2,366.4 305,367.9 304.7,369.5 304.4,371.1 304.2,372.6 303.9,374.2 303.7,375.7 303.5,377.3 303.3,378.8 303.1,380.3 303,381.8 302.9,383.3 302.8,384.8 302.7,386.3 302.7,387.7 302.6,389.2 302.6,390.6 302.7,391.9 302.7,393.3 302.8,394.6 302.9,395.9 303.1,397.1 303.3,398.3 303.5,399.5 303.7,400.6 303.9,401.7 304.2,402.7 304.5,403.7 304.8,404.6 305.2,405.5 305.6,406.3 306,407 306.4,407.7 306.8,408.3 307.2,408.9 307.7,409.4 308.2,409.8 308.6,410.1 309.1,410.4 309.6,410.6 310.1,410.7 310.6,410.8 311.1,410.8 311.6,410.7 312.1,410.5 312.6,410.3 313.1,410" stroke-dasharray="3.6 3.4"/>
<polyline points="281.1,410 281.6,409.6 282,409.1 282.5,408.6 283,408 283.4,407.4 283.8,406.7 284.2,405.9 284.6,405.1 284.9,404.2 285.3,403.2 285.6,402.2 285.9,401.1 286.2,400 286.4,398.9 286.6,397.7 286.8,396.4 287,395.2 287.1,393.9 287.2,392.5 287.3,391.1 287.3,389.7 287.4,388.3 287.4,386.9 287.4,385.4 287.3,383.9 287.2,382.4 287.2,380.8 287,379.3 286.9,377.8 286.8,376.2 286.6,374.6 286.4,373.1 286.2,371.5 286,369.9 285.8,368.3 285.5,366.8 285.3,365.2 285,363.6 284.8,362.1 284.5,360.5 284.3,359 284,357.4 283.8,355.9 283.5,354.4 283.2,352.9 283,351.4 282.8,350 282.5,348.5 282.3,347.1 282.1,345.7 281.9,344.3 281.7,342.9 281.5,341.6 281.4,340.3 281.2,339 281.1,337.7 281,336.5 280.9,335.3 280.8,334.1 280.7,333 280.7,331.8 280.7,330.8 280.7,329.7 280.7,328.7 280.7,327.7 280.7,326.8 280.8,325.9 280.8,325.1 280.9,324.3 281,323.5 281.1,322.8 281.2,322.1 281.4,321.4 281.5,320.8 281.6,320.3 281.8,319.8 282,319.3 282.1,318.9 282.3,318.6 282.5,318.3 282.7,318 282.9,317.8 283,317.6 283.2,317.5 283.4,317.4 283.6,317.4 283.8,317.5 283.9,317.5 284.1,317.7 284.3,317.9" stroke-width="1.0"/>
<polyline points="284.3,317.9 284.5,318.2 284.6,318.4 284.7,318.8 284.9,319.2 285,319.6 285.1,320.1 285.2,320.6 285.2,321.2 285.3,321.8 285.3,322.4 285.4,323.1 285.4,323.9 285.3,324.6 285.3,325.5 285.3,326.3 285.2,327.2 285.1,328.1 285,329.1 284.9,330.1 284.7,331.1 284.5,332.2 284.4,333.3 284.1,334.4 283.9,335.5 283.7,336.7 283.4,337.9 283.1,339.1 282.8,340.4 282.5,341.7 282.1,343 281.8,344.3 281.4,345.6 281,347 280.6,348.4 280.2,349.8 279.8,351.2 279.4,352.6 279,354.1 278.5,355.6 278.1,357 277.7,358.5 277.2,360 276.8,361.5 276.4,363 275.9,364.6 275.5,366.1 275.1,367.6 274.7,369.2 274.3,370.7 274,372.2 273.6,373.8 273.3,375.3 273,376.9 272.7,378.4 272.4,379.9 272.2,381.4 272,382.9 271.8,384.4 271.6,385.9 271.5,387.3 271.4,388.8 271.3,390.2 271.3,391.6 271.3,392.9 271.3,394.2 271.4,395.5 271.5,396.8 271.6,398 271.7,399.2 271.9,400.3 272.1,401.4 272.4,402.5 272.6,403.5 272.9,404.4 273.2,405.3 273.6,406.1 273.9,406.9 274.3,407.6 274.7,408.2 275.2,408.8 275.6,409.3 276.1,409.7 276.5,410.1 277,410.4 277.5,410.6 278,410.7 278.5,410.8 279,410.8 279.5,410.7 280,410.6 280.5,410.3 281,410.1" stroke-dasharray="3.6 3.4"/>
<polyline points="248.5,409 249.1,408.7 249.6,408.2 250,407.7 250.5,407.1 251,406.4 251.5,405.7 251.9,404.9 252.3,404.1 252.7,403.2 253.1,402.2 253.5,401.2 253.8,400.1 254.1,399 254.4,397.8 254.7,396.6 255,395.4 255.2,394.1 255.4,392.7 255.6,391.4 255.7,390 255.9,388.5 256,387.1 256.1,385.6 256.1,384.1 256.2,382.5 256.2,381 256.2,379.4 256.2,377.8 256.1,376.3 256.1,374.6 256,373 256,371.4 255.9,369.8 255.8,368.2 255.7,366.5 255.5,364.9 255.4,363.3 255.3,361.7 255.2,360.1 255,358.4 254.9,356.8 254.8,355.3 254.6,353.7 254.5,352.1 254.4,350.6 254.3,349 254.2,347.5 254.1,346 254,344.5 253.9,343 253.9,341.6 253.8,340.2 253.8,338.8 253.8,337.4 253.8,336.1 253.8,334.8 253.8,333.5 253.9,332.3 253.9,331.1 254,329.9 254.1,328.7 254.2,327.6 254.3,326.6 254.4,325.5 254.5,324.5 254.7,323.6 254.8,322.7 255,321.8 255.2,321 255.4,320.2 255.6,319.5 255.8,318.8 256,318.2 256.2,317.6 256.5,317.1 256.7,316.6 256.9,316.1 257.1,315.7 257.4,315.4 257.6,315.1 257.8,314.9 258,314.7 258.2,314.5 258.4,314.4 258.6,314.4 258.8,314.4 259,314.5 259.2,314.6 259.3,314.7 259.4,314.9" stroke-width="1.0"/>
<polyline points="259.5,315 259.6,315.3 259.7,315.6 259.8,315.9 259.9,316.4 259.9,316.8 260,317.3 260,317.8 260,318.4 260,319.1 259.9,319.7 259.9,320.4 259.8,321.2 259.7,322 259.5,322.8 259.4,323.6 259.2,324.5 259,325.5 258.8,326.4 258.5,327.4 258.2,328.5 257.9,329.5 257.6,330.6 257.3,331.7 256.9,332.9 256.5,334 256.1,335.2 255.7,336.5 255.2,337.7 254.8,339 254.3,340.3 253.8,341.6 253.3,342.9 252.7,344.3 252.2,345.7 251.6,347.1 251.1,348.5 250.5,349.9 249.9,351.4 249.3,352.8 248.7,354.3 248.2,355.8 247.6,357.3 247,358.8 246.4,360.3 245.9,361.9 245.3,363.4 244.8,365 244.2,366.5 243.7,368.1 243.2,369.7 242.7,371.2 242.3,372.8 241.9,374.4 241.5,375.9 241.1,377.5 240.7,379.1 240.4,380.6 240.1,382.1 239.9,383.6 239.6,385.2 239.5,386.6 239.3,388.1 239.2,389.5 239.1,391 239.1,392.3 239.1,393.7 239.1,395 239.2,396.3 239.3,397.5 239.4,398.7 239.6,399.8 239.8,400.9 240,402 240.3,403 240.6,403.9 240.9,404.8 241.3,405.6 241.6,406.3 242,407 242.5,407.6 242.9,408.1 243.4,408.6 243.8,409 244.3,409.3 244.8,409.5 245.3,409.7 245.8,409.8 246.3,409.8 246.9,409.7 247.4,409.6 247.9,409.4 248.4,409.1" stroke-dasharray="3.6 3.4"/>
<polyline points="214.4,406.9 215,406.5 215.5,406.1 216.1,405.6 216.6,404.9 217.1,404.3 217.7,403.5 218.2,402.7 218.6,401.8 219.1,400.9 219.6,399.9 220,398.8 220.4,397.7 220.8,396.5 221.2,395.3 221.5,394 221.8,392.7 222.1,391.3 222.4,389.9 222.7,388.5 222.9,387 223.2,385.5 223.4,383.9 223.6,382.4 223.7,380.8 223.9,379.2 224,377.5 224.1,375.9 224.2,374.2 224.3,372.5 224.4,370.8 224.4,369.1 224.5,367.4 224.5,365.7 224.5,364 224.5,362.2 224.6,360.5 224.6,358.8 224.6,357.1 224.6,355.4 224.6,353.6 224.6,351.9 224.6,350.3 224.6,348.6 224.7,346.9 224.7,345.3 224.7,343.6 224.8,342 224.9,340.4 224.9,338.8 225,337.3 225.1,335.8 225.2,334.3 225.3,332.8 225.5,331.4 225.6,330 225.8,328.6 226,327.2 226.2,325.9 226.4,324.7 226.6,323.4 226.8,322.3 227.1,321.1 227.3,320 227.6,318.9 227.9,317.9 228.2,316.9 228.4,316 228.7,315.1 229,314.3 229.4,313.5 229.7,312.8 230,312.1 230.3,311.5 230.6,310.9 230.9,310.3 231.2,309.9 231.5,309.4 231.8,309.1 232.1,308.7 232.3,308.5 232.6,308.2 232.9,308.1 233.1,308 233.3,307.9 233.5,307.9 233.7,307.9 233.9,308 234.1,308.1 234.2,308.3 234.3,308.6" stroke-width="1.0"/>
<polyline points="234.3,308.6 234.4,308.9 234.5,309.3 234.5,309.6 234.6,310.1 234.6,310.6 234.5,311.1 234.5,311.6 234.4,312.3 234.3,312.9 234.2,313.6 234,314.3 233.8,315.1 233.6,315.9 233.3,316.7 233.1,317.6 232.8,318.5 232.4,319.5 232.1,320.4 231.7,321.5 231.3,322.5 230.8,323.6 230.3,324.7 229.8,325.8 229.3,327 228.8,328.1 228.2,329.3 227.6,330.6 227,331.8 226.3,333.1 225.7,334.4 225,335.8 224.3,337.1 223.6,338.5 222.9,339.9 222.1,341.3 221.4,342.7 220.6,344.2 219.9,345.6 219.1,347.1 218.3,348.6 217.6,350.2 216.8,351.7 216,353.3 215.3,354.8 214.5,356.4 213.8,358 213.1,359.6 212.4,361.3 211.7,362.9 211.1,364.5 210.4,366.2 209.8,367.8 209.2,369.5 208.7,371.1 208.2,372.8 207.7,374.4 207.2,376 206.8,377.7 206.4,379.3 206.1,380.9 205.8,382.5 205.5,384 205.3,385.6 205.2,387.1 205,388.6 205,390 204.9,391.5 204.9,392.8 205,394.2 205.1,395.5 205.2,396.7 205.4,397.9 205.6,399 205.8,400.1 206.1,401.1 206.4,402.1 206.8,402.9 207.1,403.7 207.5,404.5 208,405.2 208.4,405.7 208.9,406.3 209.4,406.7 209.9,407.1 210.4,407.3 211,407.5 211.5,407.6 212.1,407.7 212.6,407.6 213.2,407.5 213.7,407.3 214.3,407" stroke-dasharray="3.6 3.4"/>
<polyline points="177.4,403.3 178,402.9 178.7,402.5 179.3,401.9 179.9,401.2 180.5,400.5 181.1,399.7 181.7,398.8 182.3,397.9 182.8,396.8 183.4,395.8 183.9,394.6 184.4,393.4 184.9,392.1 185.4,390.8 185.8,389.4 186.3,388 186.7,386.5 187.1,385 187.5,383.4 187.8,381.8 188.2,380.2 188.5,378.5 188.8,376.8 189.1,375.1 189.4,373.3 189.6,371.5 189.9,369.7 190.1,367.9 190.3,366.1 190.6,364.2 190.8,362.4 191,360.5 191.2,358.6 191.3,356.8 191.5,354.9 191.7,353 191.9,351.1 192.1,349.2 192.2,347.4 192.4,345.5 192.6,343.7 192.8,341.8 193,340 193.2,338.2 193.5,336.4 193.7,334.6 193.9,332.9 194.2,331.1 194.5,329.4 194.7,327.8 195,326.1 195.3,324.5 195.7,322.9 196,321.4 196.3,319.9 196.7,318.4 197.1,317 197.5,315.6 197.9,314.3 198.3,313 198.7,311.7 199.1,310.5 199.5,309.4 200,308.2 200.4,307.2 200.9,306.2 201.3,305.2 201.8,304.3 202.2,303.5 202.7,302.7 203.1,301.9 203.6,301.2 204,300.6 204.4,300 204.8,299.5 205.2,299 205.6,298.6 206,298.2 206.3,297.9 206.7,297.7 207,297.5 207.3,297.4 207.5,297.3 207.8,297.2 208,297.2 208.2,297.3 208.4,297.4 208.5,297.6 208.7,297.8 208.8,298.1" stroke-width="1.0"/>
<polyline points="208.8,298.2 208.8,298.5 208.8,298.9 208.8,299.3 208.8,299.8 208.7,300.3 208.6,300.8 208.5,301.4 208.3,302.1 208.1,302.7 207.8,303.5 207.5,304.2 207.2,305 206.9,305.8 206.5,306.7 206.1,307.6 205.6,308.5 205.1,309.5 204.6,310.5 204,311.5 203.4,312.6 202.8,313.7 202.1,314.8 201.4,316 200.7,317.1 200,318.3 199.2,319.6 198.4,320.8 197.5,322.1 196.7,323.4 195.8,324.7 194.9,326.1 194,327.5 193,328.9 192.1,330.3 191.1,331.8 190.1,333.2 189.1,334.7 188.1,336.3 187.1,337.8 186.1,339.4 185.1,341 184.1,342.6 183.1,344.2 182.1,345.9 181.1,347.5 180.2,349.2 179.2,350.9 178.3,352.6 177.4,354.4 176.5,356.1 175.6,357.9 174.8,359.7 174,361.4 173.3,363.2 172.5,365 171.9,366.8 171.2,368.6 170.6,370.4 170.1,372.1 169.6,373.9 169.2,375.7 168.8,377.4 168.4,379.1 168.1,380.8 167.9,382.4 167.7,384.1 167.6,385.6 167.5,387.2 167.5,388.7 167.5,390.1 167.6,391.5 167.7,392.9 167.9,394.1 168.1,395.3 168.4,396.5 168.7,397.6 169,398.6 169.4,399.5 169.8,400.3 170.3,401.1 170.8,401.8 171.3,402.4 171.8,402.9 172.4,403.3 172.9,403.6 173.5,403.9 174.1,404 174.7,404.1 175.4,404 176,403.9 176.6,403.7 177.3,403.4" stroke-dasharray="3.6 3.4"/>
<polyline points="135.7,397.7 136.4,397.2 137.2,396.7 137.9,396.1 138.7,395.3 139.4,394.5 140.1,393.6 140.9,392.7 141.6,391.6 142.3,390.5 143,389.2 143.6,388 144.3,386.6 144.9,385.2 145.5,383.7 146.2,382.1 146.8,380.5 147.3,378.9 147.9,377.2 148.4,375.4 149,373.6 149.5,371.8 150,369.9 150.5,368 150.9,366 151.4,364.1 151.8,362.1 152.3,360 152.7,358 153.1,355.9 153.6,353.9 154,351.8 154.4,349.7 154.8,347.6 155.2,345.5 155.6,343.4 156,341.3 156.4,339.2 156.8,337.1 157.3,335 157.7,332.9 158.1,330.8 158.6,328.8 159,326.8 159.5,324.7 160,322.8 160.5,320.8 161,318.9 161.5,317 162.1,315.1 162.6,313.3 163.2,311.5 163.7,309.7 164.3,308 164.9,306.3 165.5,304.7 166.2,303.1 166.8,301.6 167.5,300.1 168.1,298.7 168.8,297.3 169.4,295.9 170.1,294.7 170.8,293.5 171.4,292.3 172.1,291.2 172.8,290.2 173.4,289.2 174.1,288.2 174.7,287.4 175.3,286.6 175.9,285.8 176.5,285.1 177.1,284.5 177.7,283.9 178.2,283.4 178.8,283 179.2,282.6 179.7,282.3 180.2,282 180.6,281.8 181,281.6 181.3,281.5 181.6,281.5 181.9,281.5 182.1,281.5 182.4,281.6 182.5,281.8 182.7,282 182.7,282.3 182.8,282.6" stroke-width="1.0"/>
<polyline points="182.8,282.7 182.8,283 182.8,283.5 182.7,283.9 182.6,284.4 182.4,285 182.2,285.6 181.9,286.2 181.6,286.9 181.3,287.6 180.9,288.3 180.4,289.1 179.9,289.9 179.4,290.8 178.8,291.7 178.2,292.6 177.6,293.5 176.9,294.5 176.1,295.5 175.4,296.6 174.5,297.7 173.7,298.8 172.8,299.9 171.8,301.1 170.8,302.3 169.8,303.5 168.8,304.7 167.7,306 166.6,307.3 165.4,308.7 164.2,310 163,311.4 161.8,312.8 160.5,314.3 159.3,315.7 158,317.2 156.7,318.8 155.3,320.3 154,321.9 152.7,323.5 151.3,325.2 150,326.9 148.6,328.6 147.3,330.3 146,332.1 144.6,333.8 143.3,335.7 142,337.5 140.8,339.4 139.5,341.3 138.3,343.2 137.2,345.1 136,347.1 134.9,349 133.9,351 132.9,353 131.9,355 131,357 130.2,359 129.4,361 128.6,363 128,365 127.4,367 126.8,369 126.4,370.9 126,372.8 125.6,374.7 125.4,376.5 125.2,378.3 125,380.1 125,381.8 125,383.4 125,385 125.2,386.5 125.3,387.9 125.6,389.2 125.9,390.5 126.2,391.7 126.6,392.8 127.1,393.8 127.6,394.7 128.1,395.5 128.6,396.2 129.2,396.8 129.9,397.4 130.5,397.8 131.2,398.1 131.9,398.3 132.6,398.4 133.3,398.4 134,398.3 134.8,398.1 135.5,397.7" stroke-dasharray="3.6 3.4"/>
<polyline points="102.8,365.1 102.8,365 103.6,362.9 104.4,360.9 105.2,358.7 106,356.5 106.7,354.3 107.5,352.1 108.2,349.8 109,347.4 109.7,345.1 110.4,342.7 111.2,340.4 111.9,338 112.6,335.5 113.4,333.1 114.1,330.7 114.8,328.3 115.6,325.9 116.3,323.4 117.1,321 117.9,318.6 118.7,316.2 119.5,313.9 120.3,311.5 121.1,309.2 121.9,306.9 122.8,304.6 123.7,302.4 124.6,300.2 125.4,298 126.4,295.9 127.3,293.8 128.2,291.8 129.2,289.8 130.2,287.9 131.1,286 132.1,284.2 133.1,282.4 134.1,280.7 135.1,279 136.1,277.5 137.1,275.9 138.2,274.5 139.2,273.1 140.2,271.8 141.2,270.5 142.1,269.3 143.1,268.2 144.1,267.1 145,266.1 145.9,265.2 146.8,264.3 147.7,263.5 148.5,262.8 149.4,262.2 150.1,261.6 150.9,261.1 151.6,260.6 152.3,260.2 152.9,259.8 153.5,259.6 154.1,259.4 154.6,259.2 155,259.1 155.5,259 155.8,259.1 156.1,259.1 156.4,259.2 156.6,259.4 156.8,259.6 156.9,259.9 156.9,260.2 156.9,260.5" stroke-width="1.0"/>
<polyline points="156.9,260.6 156.8,261.1 156.7,261.5 156.5,262 156.3,262.6 156,263.1 155.6,263.8 155.2,264.4 154.7,265.1 154.2,265.8 153.6,266.6 153,267.4 152.3,268.2 151.5,269.1 150.7,270 149.8,270.9 148.9,271.9 147.9,272.9 146.9,273.9 145.8,274.9 144.7,276 143.5,277.1 142.2,278.2 141,279.4 139.6,280.6 138.2,281.8 136.8,283 135.3,284.3 133.8,285.6 132.3,287 130.7,288.3 129,289.7 127.4,291.2 125.7,292.6 123.9,294.1 122.2,295.6 120.4,297.2 118.6,298.8 116.8,300.5 115,302.2 113.1,303.9 111.3,305.6 109.5,307.4 107.6,309.3 105.8,311.2 103.9,313.1 102.1,315.1 100.3,317.1 98.6,319.1 96.8,321.2 95.1,323.3 93.5,325.5 93.1,326" stroke-dasharray="3.6 3.4"/>
<polyline points="95.3,255.3 96.5,253.8 98.1,251.8 99.6,249.9 101.2,248.1 102.7,246.4 104.3,244.8 105.8,243.2 107.3,241.7 108.8,240.3 110.3,239 111.8,237.7 113.2,236.5 114.6,235.4 116,234.4 117.3,233.5 118.6,232.6 119.8,231.9 121,231.1 122.2,230.5 123.3,229.9 124.3,229.4 125.3,229 126.3,228.7 127.1,228.4 127.9,228.1 128.7,227.9 129.4,227.8 130,227.8 130.6,227.8 131,227.8 131.5,227.9 131.8,228 132.1,228.2 132.3,228.5 132.4,228.8 132.5,229.1 132.5,229.5 132.4,229.9" stroke-width="1.0"/>
<polyline points="132.3,230 132.2,230.4 131.9,230.9 131.6,231.5 131.2,232 130.7,232.6 130.1,233.2 129.5,233.9 128.8,234.6 128,235.3 127.1,236.1 126.2,236.8 125.2,237.6 124.1,238.5 123,239.3 121.8,240.2 120.5,241.1 119.1,242 117.7,243 116.2,243.9 114.6,244.9 113,246 111.3,247 109.5,248.1 107.7,249.2 105.8,250.3 103.9,251.5 101.8,252.7 99.8,253.9 97.6,255.2 95.4,256.5 95,256.7" stroke-dasharray="3.6 3.4"/>
</g>
<g fill="none" stroke-width="1.3">
<polyline points="496.8,278.6 492.7,282 488.7,285.2 484.8,288.3 480.8,291.3 476.9,294.2 473.1,296.9 469.2,299.6 465.4,302.1 461.6,304.5 457.9,306.9 454.2,309.1 450.5,311.3 446.8,313.3 443.2,315.3 439.6,317.2 436.1,319.1 432.5,320.9 429,322.6 425.6,324.2 422.1,325.8 418.7,327.3 415.3,328.7 412,330.1 408.6,331.4 405.3,332.7 402,333.9 398.8,335.1 395.5,336.2 392.3,337.3 389.1,338.4 386,339.4 382.8,340.3 379.7,341.2 376.6,342.1 373.5,342.9 370.4,343.7 367.3,344.5 364.3,345.2 361.3,345.8 358.2,346.5 355.2,347.1 352.2,347.7 349.3,348.2 346.3,348.7 343.4,349.2 340.4,349.7 337.5,350.1 334.6,350.5 331.7,350.9 328.7,351.2 325.9,351.5 323,351.8 320.1,352 317.2,352.3 314.3,352.5 311.5,352.6 308.6,352.8 305.7,352.9 302.9,353 300,353.1 297.2,353.1 294.3,353.1 291.4,353.1 288.6,353.1 285.7,353 282.9,352.9 280,352.8 277.1,352.6 274.3,352.5 271.4,352.3 268.5,352 265.6,351.8 262.7,351.5 259.9,351.2 256.9,350.9 254,350.5 251.1,350.1 248.2,349.7 245.2,349.2 242.3,348.7 239.3,348.2 236.4,347.7 233.4,347.1 230.4,346.5 227.3,345.8 224.3,345.2 221.3,344.5 218.2,343.7 215.1,342.9 212,342.1 208.9,341.2 205.8,340.3 202.6,339.4 199.5,338.4 196.3,337.3 193.1,336.2 189.8,335.1 186.6,333.9 183.3,332.7 180,331.4 176.6,330.1 173.3,328.7 169.9,327.3 166.5,325.8 163,324.2 159.6,322.6 156.1,320.9 152.5,319.1 149,317.2 145.4,315.3 141.8,313.3 138.1,311.3 134.4,309.1 130.7,306.9 127,304.5 123.2,302.1 119.4,299.6 115.5,296.9 111.7,294.2 107.8,291.3 103.8,288.3 99.9,285.2 95.9,282 91.8,278.6" stroke="#28c430" stroke-width="1.3"/>
<polyline points="496.8,278.6 492.7,282 488.7,285.2 484.8,288.3 480.8,291.3 476.9,294.2 473.1,296.9 469.2,299.6 465.4,302.1 461.6,304.5 457.9,306.9 454.2,309.1 450.5,311.3 446.8,313.3 443.2,315.3 439.6,317.2 436.1,319.1 432.5,320.9 429,322.6 425.6,324.2 422.1,325.8 418.7,327.3 415.3,328.7 412,330.1 408.6,331.4 405.3,332.7 402,333.9 398.8,335.1 395.5,336.2 392.3,337.3 389.1,338.4 386,339.4 382.8,340.3 379.7,341.2 376.6,342.1 373.5,342.9 370.4,343.7 367.3,344.5 364.3,345.2 361.3,345.8 358.2,346.5 355.2,347.1 352.2,347.7 349.3,348.2 346.3,348.7 343.4,349.2 340.4,349.7 337.5,350.1 334.6,350.5 331.7,350.9 328.7,351.2 325.9,351.5 323,351.8 320.1,352 317.2,352.3 314.3,352.5 311.5,352.6 308.6,352.8 305.7,352.9 302.9,353 300,353.1 297.2,353.1 294.3,353.1 291.4,353.1 288.6,353.1 285.7,353 282.9,352.9 280,352.8 277.1,352.6 274.3,352.5 271.4,352.3 268.5,352 265.6,351.8 262.7,351.5 259.9,351.2 256.9,350.9 254,350.5 251.1,350.1 248.2,349.7 245.2,349.2 242.3,348.7 239.3,348.2 236.4,347.7 233.4,347.1 230.4,346.5 227.3,345.8 224.3,345.2 221.3,344.5 218.2,343.7 215.1,342.9 212,342.1 208.9,341.2 205.8,340.3 202.6,339.4 199.5,338.4 196.3,337.3 193.1,336.2 189.8,335.1 186.6,333.9 183.3,332.7 180,331.4 176.6,330.1 173.3,328.7 169.9,327.3 166.5,325.8 163,324.2 159.6,322.6 156.1,320.9 152.5,319.1 149,317.2 145.4,315.3 141.8,313.3 138.1,311.3 134.4,309.1 130.7,306.9 127,304.5 123.2,302.1 119.4,299.6 115.5,296.9 111.7,294.2 107.8,291.3 103.8,288.3 99.9,285.2 95.9,282 91.8,278.6" stroke="#202034" stroke-width="1.3" stroke-dasharray="1.5 1.5 1.5 1.5 1.5 1.5 1.5 1.5 1.5 1.5 1.5 1.5 1.5 1.5 1.5 1.5 1.5 1.5 1.5 1.5 1.5 10"/>
<polyline points="496.8,278.6 492.7,282 488.7,285.2 484.8,288.3 480.8,291.3 476.9,294.2 473.1,296.9 469.2,299.6 465.4,302.1 461.6,304.5 457.9,306.9 454.2,309.1 450.5,311.3 446.8,313.3 443.2,315.3 439.6,317.2 436.1,319.1 432.5,320.9 429,322.6 425.6,324.2 422.1,325.8 418.7,327.3 415.3,328.7 412,330.1 408.6,331.4 405.3,332.7 402,333.9 398.8,335.1 395.5,336.2 392.3,337.3 389.1,338.4 386,339.4 382.8,340.3 379.7,341.2 376.6,342.1 373.5,342.9 370.4,343.7 367.3,344.5 364.3,345.2 361.3,345.8 358.2,346.5 355.2,347.1 352.2,347.7 349.3,348.2 346.3,348.7 343.4,349.2 340.4,349.7 337.5,350.1 334.6,350.5 331.7,350.9 328.7,351.2 325.9,351.5 323,351.8 320.1,352 317.2,352.3 314.3,352.5 311.5,352.6 308.6,352.8 305.7,352.9 302.9,353 300,353.1 297.2,353.1 294.3,353.1 291.4,353.1 288.6,353.1 285.7,353 282.9,352.9 280,352.8 277.1,352.6 274.3,352.5 271.4,352.3 268.5,352 265.6,351.8 262.7,351.5 259.9,351.2 256.9,350.9 254,350.5 251.1,350.1 248.2,349.7 245.2,349.2 242.3,348.7 239.3,348.2 236.4,347.7 233.4,347.1 230.4,346.5 227.3,345.8 224.3,345.2 221.3,344.5 218.2,343.7 215.1,342.9 212,342.1 208.9,341.2 205.8,340.3 202.6,339.4 199.5,338.4 196.3,337.3 193.1,336.2 189.8,335.1 186.6,333.9 183.3,332.7 180,331.4 176.6,330.1 173.3,328.7 169.9,327.3 166.5,325.8 163,324.2 159.6,322.6 156.1,320.9 152.5,319.1 149,317.2 145.4,315.3 141.8,313.3 138.1,311.3 134.4,309.1 130.7,306.9 127,304.5 123.2,302.1 119.4,299.6 115.5,296.9 111.7,294.2 107.8,291.3 103.8,288.3 99.9,285.2 95.9,282 91.8,278.6" stroke="#c81040" stroke-width="1.3" stroke-dasharray="1.5 10.5" stroke-dashoffset="-4.5"/>
</g>
<g font-size="9.3" fill="#b88c1c">
<text x="484.8" y="397.4">1st Jan</text>
<text x="495.6" y="374.1">1st Feb</text>
<text x="506.7" y="334.2">1st Mar</text>
<text x="508.8" y="281.7">1st Apr</text>
<text x="499.4" y="236.5">1st May</text>
<text x="487.1" y="207.2">1st Jun</text>
<text x="104.6" y="202.3" text-anchor="end">1st Jul</text>
<text x="94.9" y="222.4" text-anchor="end">1st Aug</text>
<text x="82.9" y="263.1" text-anchor="end">1st Sep</text>
<text x="79.9" y="312.5" text-anchor="end">1st Oct</text>
<text x="88.8" y="361.0" text-anchor="end">1st Nov</text>
<text x="101.4" y="391.9" text-anchor="end">1st Dec</text>
</g>
<path d="M496.3 279.1 h6.5 M497.3 279.1 v-5" stroke="#c08a28" stroke-width="1" fill="none"/>
<g font-size="9.3" fill="#b88c1c" text-anchor="middle">
<text x="458.0" y="219.5">6</text>
<text x="434.0" y="251.6">7</text>
<text x="408.4" y="275.1">8</text>
<text x="381.9" y="292.6">9</text>
<text x="358.8" y="304.1">10</text>
<text x="334.0" y="310.6">11</text>
<text x="309.2" y="314.0">12</text>
<text x="284.4" y="314.4">13</text>
<text x="260.1" y="311.4">14</text>
<text x="234.4" y="305.8">15</text>
<text x="213.5" y="294.7">16</text>
<text x="187.9" y="279.8">17</text>
<text x="161.8" y="257.6">18</text>
<text x="137.4" y="225.9">19</text>
</g>
<line x1="311.6" y1="352.9" x2="354.4" y2="491.2" stroke="#707070" stroke-width="1"/>
<path d="M294.3 297.0 L301.2 319.3 M294.3 297.0 L294.6 318.0 L296.9 318.0 Z" fill="none" stroke="#2a48c0" stroke-width="1"/>
<path d="M301.2 319.3 L311.6 352.9" fill="none" stroke="#1c1c96" stroke-width="1.6" stroke-dasharray="3 3"/>
<circle cx="311.6" cy="352.9" r="5.5" fill="#2c68c0"/>
<circle cx="311.6" cy="352.9" r="3.5" fill="none" stroke="#1c3c9c" stroke-width="2" stroke-dasharray="1.5 2"/>
<path d="M306.1 352.9 h11.0 M311.6 347.4 v11.0" stroke="#183078" stroke-width="1" stroke-dasharray="1 1"/>
<text x="602.6" y="14.8" font-size="14.67" fill="#000" text-anchor="start" font-weight="bold" textLength="169.8">Orthographic Projection</text>
<text x="604.5" y="30.9" font-size="10.67" fill="#000" text-anchor="start" font-weight="normal" textLength="108.5">Location: 35.1? 126.9?</text>
<text x="604.5" y="46.6" font-size="10.67" fill="#000" text-anchor="start" font-weight="normal" textLength="127">Sun Position: 162.8? 57.9?</text>
<text x="1048.4" y="19.7" font-size="10.67" fill="#000" text-anchor="start" font-weight="normal" textLength="121.4">Date/Time: 12:00, 1st Apr</text>
<text x="1048.4" y="34.6" font-size="10.67" fill="#000" text-anchor="start" font-weight="normal" textLength="135.7">Dotted lines: July-December.</text>
<text x="1048.4" y="49.5" font-size="10.67" fill="#000" text-anchor="start" font-weight="normal" textLength="124.2">HSA: 162.8°, VSA: 121.0°</text>
<text transform="translate(785.7,635.7) scale(1,1.46)" font-size="24" fill="#3a3a3a">&lt;</text>
<text x="808" y="632.7" font-size="24" fill="#3a3a3a" text-anchor="start" font-weight="normal" textLength="85.5" lengthAdjust="spacing">Vertical</text>
<text x="901.6" y="632.7" font-size="24" fill="#3a3a3a" text-anchor="start" font-weight="normal" textLength="93.6" lengthAdjust="spacing">sunpath</text>
<text transform="translate(1004.9,635.7) scale(1,1.46)" font-size="24" fill="#3a3a3a">&gt;</text>
<g stroke="#6c6c6c" stroke-width="1" stroke-dasharray="3 3" shape-rendering="crispEdges">
<line x1="647.3" y1="74.5" x2="647.3" y2="563.5"/>
<line x1="670.1" y1="74.5" x2="670.1" y2="563.5"/>
<line x1="692.9" y1="74.5" x2="692.9" y2="563.5"/>
<line x1="715.7" y1="74.5" x2="715.7" y2="563.5"/>
<line x1="738.5" y1="74.5" x2="738.5" y2="563.5"/>
<line x1="761.3" y1="74.5" x2="761.3" y2="563.5"/>
<line x1="784.1" y1="74.5" x2="784.1" y2="563.5"/>
<line x1="806.9" y1="74.5" x2="806.9" y2="563.5"/>
<line x1="829.7" y1="74.5" x2="829.7" y2="563.5"/>
<line x1="852.5" y1="74.5" x2="852.5" y2="563.5"/>
<line x1="875.3" y1="74.5" x2="875.3" y2="563.5"/>
<line x1="898.1" y1="74.5" x2="898.1" y2="563.5"/>
<line x1="920.9" y1="74.5" x2="920.9" y2="563.5"/>
<line x1="943.7" y1="74.5" x2="943.7" y2="563.5"/>
<line x1="966.5" y1="74.5" x2="966.5" y2="563.5"/>
<line x1="989.3" y1="74.5" x2="989.3" y2="563.5"/>
<line x1="1012.1" y1="74.5" x2="1012.1" y2="563.5"/>
<line x1="1034.9" y1="74.5" x2="1034.9" y2="563.5"/>
<line x1="1057.7" y1="74.5" x2="1057.7" y2="563.5"/>
<line x1="1080.5" y1="74.5" x2="1080.5" y2="563.5"/>
<line x1="1103.3" y1="74.5" x2="1103.3" y2="563.5"/>
<line x1="1126.1" y1="74.5" x2="1126.1" y2="563.5"/>
<line x1="1148.9" y1="74.5" x2="1148.9" y2="563.5"/>
<line x1="625.5" y1="536.3" x2="1171.7" y2="536.3"/>
<line x1="625.5" y1="509.1" x2="1171.7" y2="509.1"/>
<line x1="625.5" y1="481.8" x2="1171.7" y2="481.8"/>
<line x1="625.5" y1="454.6" x2="1171.7" y2="454.6"/>
<line x1="625.5" y1="427.4" x2="1171.7" y2="427.4"/>
<line x1="625.5" y1="400.2" x2="1171.7" y2="400.2"/>
<line x1="625.5" y1="372.9" x2="1171.7" y2="372.9"/>
<line x1="625.5" y1="345.7" x2="1171.7" y2="345.7"/>
<line x1="625.5" y1="318.5" x2="1171.7" y2="318.5"/>
<line x1="625.5" y1="291.3" x2="1171.7" y2="291.3"/>
<line x1="625.5" y1="264.1" x2="1171.7" y2="264.1"/>
<line x1="625.5" y1="236.8" x2="1171.7" y2="236.8"/>
<line x1="625.5" y1="209.6" x2="1171.7" y2="209.6"/>
<line x1="625.5" y1="182.4" x2="1171.7" y2="182.4"/>
<line x1="625.5" y1="155.2" x2="1171.7" y2="155.2"/>
<line x1="625.5" y1="127.9" x2="1171.7" y2="127.9"/>
<line x1="625.5" y1="100.7" x2="1171.7" y2="100.7"/>
</g>
<g stroke="#606060" stroke-width="1" fill="none" shape-rendering="crispEdges">
<rect x="624.5" y="73.5" width="547.2" height="490.0"/>
<line x1="624.5" y1="563.5" x2="624.5" y2="569.0"/>
<line x1="670.1" y1="563.5" x2="670.1" y2="569.0"/>
<line x1="715.7" y1="563.5" x2="715.7" y2="569.0"/>
<line x1="761.3" y1="563.5" x2="761.3" y2="569.0"/>
<line x1="806.9" y1="563.5" x2="806.9" y2="569.0"/>
<line x1="852.5" y1="563.5" x2="852.5" y2="569.0"/>
<line x1="898.1" y1="563.5" x2="898.1" y2="569.0"/>
<line x1="943.7" y1="563.5" x2="943.7" y2="569.0"/>
<line x1="989.3" y1="563.5" x2="989.3" y2="569.0"/>
<line x1="1034.9" y1="563.5" x2="1034.9" y2="569.0"/>
<line x1="1080.5" y1="563.5" x2="1080.5" y2="569.0"/>
<line x1="1126.1" y1="563.5" x2="1126.1" y2="569.0"/>
<line x1="1171.7" y1="563.5" x2="1171.7" y2="569.0"/>
<line x1="620.0" y1="563.5" x2="624.5" y2="563.5"/>
<line x1="620.0" y1="509.1" x2="624.5" y2="509.1"/>
<line x1="620.0" y1="454.6" x2="624.5" y2="454.6"/>
<line x1="620.0" y1="400.2" x2="624.5" y2="400.2"/>
<line x1="620.0" y1="345.7" x2="624.5" y2="345.7"/>
<line x1="620.0" y1="291.3" x2="624.5" y2="291.3"/>
<line x1="620.0" y1="236.8" x2="624.5" y2="236.8"/>
<line x1="620.0" y1="182.4" x2="624.5" y2="182.4"/>
<line x1="620.0" y1="127.9" x2="624.5" y2="127.9"/>
<line x1="620.0" y1="73.5" x2="624.5" y2="73.5"/>
</g>
<g font-size="9" fill="#000" text-anchor="end">
<text x="616.3" y="511.4">10</text>
<text x="616.3" y="456.9">20</text>
<text x="616.3" y="402.5">30</text>
<text x="616.3" y="348.0">40</text>
<text x="616.3" y="293.6">50</text>
<text x="616.3" y="239.1">60</text>
<text x="616.3" y="184.7">70</text>
<text x="616.3" y="130.2">80</text>
<text x="616.3" y="75.8">90</text>
<text x="619.3" y="566.1" textLength="15.5">ALT</text>
</g>
<g font-size="9" fill="#000" text-anchor="middle">
<text x="624.5" y="579.8">North</text>
<text x="670.1" y="579.8">30</text>
<text x="715.7" y="579.8">60</text>
<text x="761.3" y="579.8">90</text>
<text x="806.9" y="579.8">120</text>
<text x="852.5" y="579.8">150</text>
<text x="898.1" y="579.8">South</text>
<text x="943.7" y="579.8">210</text>
<text x="989.3" y="579.8">240</text>
<text x="1034.9" y="579.8">270</text>
<text x="1080.5" y="579.8">300</text>
<text x="1126.1" y="579.8">330</text>
<text x="1171.7" y="579.8">North</text>
</g>
<clipPath id="oc"><rect x="624.5" y="73.5" width="547.2" height="490.5"/></clipPath>
<g clip-path="url(#oc)">
<g fill="none" stroke="#2020a0" stroke-width="1.0" shape-rendering="crispEdges">
<polyline points="804.8,563.5 806.7,554.8 808.8,546.3 810.8,537.8 812.9,529.5 815.1,521.3 817.3,513.3 819.5,505.4 821.8,497.6 824.2,490.1 826.6,482.7 829.1,475.5 831.6,468.5 834.2,461.8 836.9,455.2 839.7,448.9 842.5,442.9 845.4,437.1 848.4,431.6 851.4,426.3 854.5,421.4 857.7,416.8 861,412.5 864.3,408.6 867.6,405 871.1,401.7 874.6,398.9 878.1,396.4 881.7,394.4 885.3,392.7 888.9,391.5 892.6,390.6 896.3,390.2 899.9,390.2 903.6,390.6 907.3,391.5 910.9,392.7 914.5,394.4 918.1,396.4 921.6,398.9 925.1,401.7 928.6,405 931.9,408.6 935.2,412.5 938.5,416.8 941.7,421.4 944.8,426.3 947.8,431.6 950.8,437.1 953.7,442.9 956.5,448.9 959.3,455.2 962,461.8 964.6,468.5 967.1,475.5 969.6,482.7 972,490.1 974.4,497.6 976.7,505.4 978.9,513.3 981.1,521.3 983.3,529.5 985.4,537.8 987.4,546.3 989.5,554.8 991.4,563.5" />
<polyline points="793.8,563.5 795.7,554.2 797.7,545.1 799.8,536 801.9,527 804,518.2 806.2,509.4 808.4,500.8 810.7,492.3 813,484 815.4,475.8 817.9,467.7 820.4,459.9 823,452.2 825.7,444.7 828.4,437.4 831.3,430.4 834.2,423.6 837.2,417 840.3,410.7 843.4,404.7 846.7,399 850,393.6 853.5,388.5 857,383.8 860.6,379.5 864.3,375.5 868.1,371.9 871.9,368.7 875.8,366 879.8,363.7 883.8,361.8 887.9,360.4 892,359.5 896,359 900.2,359 904.2,359.5 908.3,360.4 912.4,361.8 916.4,363.7 920.4,366 924.3,368.7 928.1,371.9 931.9,375.5 935.6,379.5 939.2,383.8 942.7,388.5 946.2,393.6 949.5,399 952.8,404.7 955.9,410.7 959,417 962,423.6 964.9,430.4 967.8,437.4 970.5,444.7 973.2,452.2 975.8,459.9 978.3,467.7 980.8,475.8 983.2,484 985.5,492.3 987.8,500.8 990,509.4 992.2,518.2 994.3,527 996.4,536 998.5,545.1 1000.5,554.2 1002.4,563.5" />
<polyline points="776,563.5 777.9,553.8 779.9,544.1 781.9,534.4 783.9,524.8 785.9,515.3 788,505.8 790.1,496.4 792.3,487.1 794.5,477.9 796.7,468.7 799.1,459.7 801.4,450.8 803.9,442 806.4,433.3 809,424.8 811.6,416.4 814.4,408.2 817.2,400.2 820.2,392.4 823.2,384.8 826.4,377.4 829.7,370.3 833.1,363.4 836.6,356.8 840.2,350.6 844,344.6 847.9,339.1 852,333.9 856.1,329.1 860.4,324.7 864.8,320.8 869.3,317.3 874,314.4 878.7,311.9 883.5,310 888.3,308.6 893.2,307.8 898.1,307.5 903,307.8 907.9,308.6 912.7,310 917.5,311.9 922.2,314.4 926.9,317.3 931.4,320.8 935.8,324.7 940.1,329.1 944.2,333.9 948.3,339.1 952.2,344.6 956,350.6 959.6,356.8 963.1,363.4 966.5,370.3 969.8,377.4 973,384.8 976,392.4 979,400.2 981.8,408.2 984.6,416.4 987.2,424.8 989.8,433.3 992.3,442 994.8,450.8 997.1,459.7 999.5,468.7 1001.7,477.9 1003.9,487.1 1006.1,496.4 1008.2,505.8 1010.3,515.3 1012.3,524.8 1014.3,534.4 1016.3,544.1 1018.3,553.8 1020.2,563.5" />
<polyline points="733.6,563.5 735.5,554 737.5,544.4 739.4,534.8 741.2,525.1 743.1,515.4 745,505.6 746.8,495.8 748.7,485.9 750.5,476.1 752.4,466.2 754.3,456.2 756.2,446.3 758.1,436.3 760,426.4 761.9,416.4 763.9,406.4 765.9,396.5 768,386.5 770.1,376.6 772.3,366.7 774.6,356.8 776.9,347 779.3,337.2 781.8,327.5 784.4,317.8 787.2,308.2 790.1,298.7 793.2,289.4 796.4,280.1 799.9,271 803.6,262.1 807.6,253.4 811.9,244.9 816.5,236.8 821.5,228.9 826.9,221.4 832.8,214.4 839.3,207.9 846.2,201.9 853.7,196.7 861.8,192.2 870.3,188.6 879.3,186 888.6,184.4 898.1,183.9 907.6,184.4 916.9,186 925.9,188.6 934.4,192.2 942.5,196.7 950,201.9 956.9,207.9 963.4,214.4 969.3,221.4 974.7,228.9 979.7,236.8 984.3,244.9 988.6,253.4 992.6,262.1 996.3,271 999.8,280.1 1003,289.4 1006.1,298.7 1009,308.2 1011.8,317.8 1014.4,327.5 1016.9,337.2 1019.3,347 1021.6,356.8 1023.9,366.7 1026.1,376.6 1028.2,386.5 1030.3,396.5 1032.3,406.4 1034.3,416.4 1036.2,426.4 1038.1,436.3 1040,446.3 1041.9,456.2 1043.8,466.2 1045.7,476.1 1047.5,485.9 1049.4,495.8 1051.2,505.6 1053.1,515.4 1055,525.1 1056.8,534.8 1058.7,544.4 1060.7,554 1062.6,563.5" />
<polyline points="720,563.5 721.9,554.6 723.8,545.5 725.7,536.4 727.6,527.2 729.4,517.9 731.2,508.6 733,499.2 734.7,489.7 736.5,480.1 738.2,470.5 739.9,460.9 741.7,451.1 743.4,441.4 745.1,431.6 746.8,421.8 748.6,411.9 750.3,402 752.1,392.1 753.9,382.2 755.7,372.2 757.6,362.2 759.5,352.3 761.4,342.3 763.4,332.3 765.4,322.3 767.6,312.4 769.8,302.4 772.1,292.5 774.5,282.6 777.1,272.8 779.8,263 782.7,253.2 785.8,243.6 789.2,234.1 792.8,224.7 796.9,215.4 801.3,206.4 806.3,197.5 811.8,189 818.1,180.9 825.2,173.2 833.3,166.1 842.6,159.7 853.1,154.3 864.8,149.9 877.6,146.9 891.2,145.3 905,145.3 918.6,146.9 931.4,149.9 943.1,154.3 953.6,159.7 962.9,166.1 971,173.2 978.1,180.9 984.4,189 989.9,197.5 994.9,206.4 999.3,215.4 1003.4,224.7 1007,234.1 1010.4,243.6 1013.5,253.2 1016.4,263 1019.1,272.8 1021.7,282.6 1024.1,292.5 1026.4,302.4 1028.6,312.4 1030.8,322.3 1032.8,332.3 1034.8,342.3 1036.7,352.3 1038.6,362.2 1040.5,372.2 1042.3,382.2 1044.1,392.1 1045.9,402 1047.6,411.9 1049.4,421.8 1051.1,431.6 1052.8,441.4 1054.5,451.1 1056.3,460.9 1058,470.5 1059.7,480.1 1061.5,489.7 1063.2,499.2 1065,508.6 1066.8,517.9 1068.6,527.2 1070.5,536.4 1072.4,545.5 1074.3,554.6 1076.2,563.5" />
<polyline points="717.6,563.5 719.5,554.7 721.4,545.8 723.3,536.8 725.2,527.7 727,518.5 728.8,509.3 730.5,500 732.3,490.6 734,481.1 735.7,471.6 737.4,462 739.1,452.4 740.8,442.7 742.5,433 744.2,423.2 745.9,413.4 747.6,403.6 749.3,393.7 751.1,383.8 752.8,373.9 754.6,364 756.4,354 758.3,344 760.2,334.1 762.1,324.1 764.2,314.1 766.2,304.1 768.4,294.2 770.7,284.3 773.1,274.3 775.6,264.5 778.3,254.7 781.2,244.9 784.3,235.2 787.7,225.7 791.4,216.2 795.4,206.9 800,197.8 805.1,188.9 810.9,180.3 817.5,172.1 825.1,164.4 833.9,157.3 844,151.1 855.7,145.8 868.8,141.8 883.1,139.3 898.1,138.4 913.1,139.3 927.4,141.8 940.5,145.8 952.2,151.1 962.3,157.3 971.1,164.4 978.7,172.1 985.3,180.3 991.1,188.9 996.2,197.8 1000.8,206.9 1004.8,216.2 1008.5,225.7 1011.9,235.2 1015,244.9 1017.9,254.7 1020.6,264.5 1023.1,274.3 1025.5,284.3 1027.8,294.2 1030,304.1 1032,314.1 1034.1,324.1 1036,334.1 1037.9,344 1039.8,354 1041.6,364 1043.4,373.9 1045.1,383.8 1046.9,393.7 1048.6,403.6 1050.3,413.4 1052,423.2 1053.7,433 1055.4,442.7 1057.1,452.4 1058.8,462 1060.5,471.6 1062.2,481.1 1063.9,490.6 1065.7,500 1067.4,509.3 1069.2,518.5 1071,527.7 1072.9,536.8 1074.8,545.8 1076.7,554.7 1078.6,563.5" stroke-dasharray="3.6 3.4"/>
<polyline points="727.1,563.5 729.1,554.2 731,544.8 732.9,535.4 734.8,525.9 736.6,516.3 738.5,506.6 740.3,497 742.1,487.2 743.9,477.4 745.7,467.6 747.5,457.7 749.3,447.8 751.2,437.9 753,427.9 754.8,418 756.7,408 758.6,398 760.6,388 762.5,377.9 764.5,367.9 766.6,357.9 768.7,348 770.9,338 773.2,328.1 775.6,318.2 778.1,308.3 780.7,298.5 783.4,288.8 786.3,279.1 789.4,269.6 792.7,260.2 796.2,250.9 800,241.7 804.2,232.8 808.7,224.1 813.6,215.7 819.1,207.6 825.1,199.9 831.7,192.7 839.1,186.1 847.2,180.2 856.1,175.1 865.8,171 876.1,167.9 887,166 898.1,165.4 909.2,166 920.1,167.9 930.4,171 940.1,175.1 949,180.2 957.1,186.1 964.5,192.7 971.1,199.9 977.1,207.6 982.6,215.7 987.5,224.1 992,232.8 996.2,241.7 1000,250.9 1003.5,260.2 1006.8,269.6 1009.9,279.1 1012.8,288.8 1015.5,298.5 1018.1,308.3 1020.6,318.2 1023,328.1 1025.3,338 1027.5,348 1029.6,357.9 1031.7,367.9 1033.7,377.9 1035.6,388 1037.6,398 1039.5,408 1041.4,418 1043.2,427.9 1045,437.9 1046.9,447.8 1048.7,457.7 1050.5,467.6 1052.3,477.4 1054.1,487.2 1055.9,497 1057.7,506.6 1059.6,516.3 1061.4,525.9 1063.3,535.4 1065.2,544.8 1067.1,554.2 1069.1,563.5" stroke-dasharray="3.6 3.4"/>
<polyline points="745.3,563.5 747.3,553.7 749.2,543.9 751.2,534 753.1,524.1 755,514.2 756.9,504.2 758.8,494.3 760.8,484.3 762.7,474.4 764.7,464.4 766.7,454.5 768.8,444.6 770.8,434.7 772.9,424.8 775.1,414.9 777.3,405.1 779.6,395.4 781.9,385.7 784.3,376 786.8,366.4 789.4,357 792.1,347.6 794.9,338.3 797.8,329.1 800.9,320.1 804.2,311.3 807.6,302.6 811.2,294.1 815,285.9 819.1,277.9 823.4,270.2 828,262.8 832.8,255.8 838,249.3 843.5,243.2 849.4,237.6 855.5,232.6 862,228.3 868.8,224.7 875.9,221.8 883.2,219.6 890.6,218.4 898.1,217.9 905.6,218.4 913,219.6 920.3,221.8 927.4,224.7 934.2,228.3 940.7,232.6 946.8,237.6 952.7,243.2 958.2,249.3 963.4,255.8 968.2,262.8 972.8,270.2 977.1,277.9 981.2,285.9 985,294.1 988.6,302.6 992,311.3 995.3,320.1 998.4,329.1 1001.3,338.3 1004.1,347.6 1006.8,357 1009.4,366.4 1011.9,376 1014.3,385.7 1016.6,395.4 1018.9,405.1 1021.1,414.9 1023.3,424.8 1025.4,434.7 1027.4,444.6 1029.5,454.5 1031.5,464.4 1033.5,474.4 1035.4,484.3 1037.4,494.3 1039.3,504.2 1041.2,514.2 1043.1,524.1 1045,534 1047,543.9 1048.9,553.7 1050.9,563.5" stroke-dasharray="3.6 3.4"/>
<polyline points="766.6,563.5 768.6,553.6 770.5,543.7 772.5,533.9 774.5,524 776.5,514.3 778.5,504.5 780.6,494.8 782.7,485.2 784.9,475.6 787,466 789.3,456.6 791.6,447.2 793.9,437.9 796.3,428.7 798.8,419.7 801.4,410.7 804,401.9 806.7,393.2 809.6,384.7 812.5,376.3 815.6,368.2 818.8,360.2 822.1,352.5 825.5,345 829.1,337.8 832.8,330.9 836.7,324.3 840.8,318.1 845,312.2 849.4,306.7 854,301.7 858.7,297.1 863.6,293 868.6,289.5 873.8,286.4 879.1,284 884.4,282.1 889.9,280.9 895.4,280.3 900.8,280.3 906.3,280.9 911.8,282.1 917.1,284 922.4,286.4 927.6,289.5 932.6,293 937.5,297.1 942.2,301.7 946.8,306.7 951.2,312.2 955.4,318.1 959.5,324.3 963.4,330.9 967.1,337.8 970.7,345 974.1,352.5 977.4,360.2 980.6,368.2 983.7,376.3 986.6,384.7 989.5,393.2 992.2,401.9 994.8,410.7 997.4,419.7 999.9,428.7 1002.3,437.9 1004.6,447.2 1006.9,456.6 1009.2,466 1011.3,475.6 1013.5,485.2 1015.6,494.8 1017.7,504.5 1019.7,514.3 1021.7,524 1023.7,533.9 1025.7,543.7 1027.6,553.6 1029.6,563.5" stroke-dasharray="3.6 3.4"/>
<polyline points="787.8,563.5 789.8,554 791.8,544.5 793.8,535.2 795.9,525.9 798,516.7 800.2,507.6 802.4,498.7 804.6,489.8 806.9,481.1 809.3,472.5 811.8,464 814.3,455.7 816.8,447.6 819.5,439.7 822.2,431.9 825,424.4 827.9,417 830.9,409.9 834,403.1 837.2,396.5 840.5,390.2 843.9,384.2 847.3,378.5 850.9,373.2 854.6,368.2 858.4,363.6 862.3,359.4 866.3,355.6 870.3,352.3 874.4,349.3 878.6,346.9 882.9,344.9 887.2,343.4 891.6,342.4 895.9,341.9 900.3,341.9 904.6,342.4 909,343.4 913.3,344.9 917.6,346.9 921.8,349.3 925.9,352.3 929.9,355.6 933.9,359.4 937.8,363.6 941.6,368.2 945.3,373.2 948.9,378.5 952.3,384.2 955.7,390.2 959,396.5 962.2,403.1 965.3,409.9 968.3,417 971.2,424.4 974,431.9 976.7,439.7 979.4,447.6 981.9,455.7 984.4,464 986.9,472.5 989.3,481.1 991.6,489.8 993.8,498.7 996,507.6 998.2,516.7 1000.3,525.9 1002.4,535.2 1004.4,544.5 1006.4,554 1008.4,563.5" stroke-dasharray="3.6 3.4"/>
<polyline points="802.1,563.5 804.1,554.7 806.1,545.9 808.2,537.3 810.3,528.8 812.4,520.5 814.6,512.3 816.8,504.2 819.1,496.3 821.5,488.5 823.9,480.9 826.4,473.5 828.9,466.3 831.6,459.3 834.2,452.5 837,446 839.8,439.7 842.7,433.7 845.7,427.9 848.8,422.4 851.9,417.2 855.1,412.3 858.4,407.8 861.7,403.6 865.2,399.7 868.6,396.2 872.2,393.1 875.8,390.4 879.4,388 883.1,386.1 886.8,384.6 890.6,383.6 894.3,382.9 898.1,382.7 901.9,382.9 905.6,383.6 909.4,384.6 913.1,386.1 916.8,388 920.4,390.4 924,393.1 927.6,396.2 931,399.7 934.5,403.6 937.8,407.8 941.1,412.3 944.3,417.2 947.4,422.4 950.5,427.9 953.5,433.7 956.4,439.7 959.2,446 962,452.5 964.6,459.3 967.3,466.3 969.8,473.5 972.3,480.9 974.7,488.5 977.1,496.3 979.4,504.2 981.6,512.3 983.8,520.5 985.9,528.8 988,537.3 990.1,545.9 992.1,554.7 994.1,563.5" stroke-dasharray="3.6 3.4"/>
<polyline points="740.7,563.5 740.1,561.4 739.4,558.8 738.7,556.2 737.9,553.8 737.2,551.4 736.5,549.1 735.8,547 735.1,544.9 734.5,542.9 733.8,541 733.2,539.2 732.6,537.6 731.9,536 731.4,534.5 730.8,533.2 730.2,532 729.7,530.8 729.2,529.8 728.7,528.9 728.2,528.1 727.8,527.4 727.4,526.8 727,526.3 726.6,526 726.3,525.7 726,525.5 725.7,525.5 725.5,525.5 725.3,525.6 725.1,525.9 725,526.2 724.9,526.6 724.8,527.1 724.7,527.6 724.7,528.3 724.8,529" stroke-width="1.0"/>
<polyline points="724.8,529.2 724.9,530 725,530.9 725.1,531.9 725.3,532.9 725.6,534 725.8,535.1 726.1,536.3 726.5,537.5 726.8,538.8 727.3,540.1 727.7,541.5 728.2,542.9 728.7,544.3 729.2,545.7 729.8,547.2 730.5,548.7 731.1,550.3 731.8,551.8 732.5,553.3 733.3,554.9 734,556.5 734.8,558.1 735.7,559.6 736.5,561.2 737.4,562.8 737.8,563.5" stroke-dasharray="3.6 3.4"/>
<polyline points="771.8,563.5 771.3,561.8 770.4,558.8 769.5,555.8 768.7,552.7 767.8,549.6 767,546.5 766.1,543.3 765.3,540.1 764.4,537 763.6,533.8 762.8,530.7 761.9,527.5 761.1,524.4 760.2,521.3 759.4,518.2 758.6,515.2 757.8,512.2 757,509.3 756.1,506.4 755.3,503.6 754.5,500.9 753.7,498.2 752.9,495.6 752.1,493.1 751.4,490.6 750.6,488.3 749.8,486 749.1,483.9 748.3,481.8 747.6,479.9 746.9,478 746.2,476.2 745.5,474.6 744.8,473 744.1,471.6 743.5,470.3 742.9,469 742.3,467.9 741.7,466.9 741.2,466 740.6,465.2 740.1,464.5 739.7,463.9 739.2,463.5 738.8,463.1 738.4,462.8 738.1,462.6 737.8,462.5 737.5,462.5 737.2,462.6 737,462.8 736.8,463.1 736.7,463.4 736.6,463.9 736.5,464.4 736.5,464.9 736.5,465.6 736.6,466.3" stroke-width="1.0"/>
<polyline points="736.6,466.5 736.7,467.3 736.8,468.2 737,469.1 737.2,470 737.5,471 737.8,472.1 738.1,473.2 738.5,474.4 738.9,475.5 739.4,476.8 739.8,478 740.4,479.3 740.9,480.6 741.5,481.9 742.2,483.3 742.8,484.6 743.5,486 744.3,487.4 745,488.8 745.8,490.2 746.6,491.6 747.5,493.1 748.4,494.5 749.3,495.9 750.2,497.4 751.1,498.8 752.1,500.3 753.1,501.8 754.1,503.2 755.2,504.7 756.2,506.2 757.3,507.7 758.3,509.1 759.4,510.6 760.5,512.2 761.7,513.7 762.8,515.2 763.9,516.8 765,518.3 766.2,519.9 767.3,521.5 768.4,523.1 769.6,524.8 770.7,526.4 771.8,528.1 773,529.8 774.1,531.6 775.2,533.3 776.3,535.1 777.3,537 778.4,538.8 779.4,540.7 780.5,542.6 781.5,544.5 782.5,546.5 783.4,548.5 784.4,550.5 785.3,552.5 786.2,554.6 787,556.6 787.9,558.7 788.7,560.8 789.4,562.9 789.6,563.5" stroke-dasharray="3.6 3.4"/>
<polyline points="808.1,548.9 807.7,549.2 807.3,549.3 806.8,549.4 806.4,549.3 805.8,549.1 805.3,548.7 804.7,548.2 804.2,547.6 803.5,546.9 802.9,546.1 802.2,545.1 801.6,544 800.9,542.8 800.2,541.4 799.4,540 798.7,538.4 797.9,536.7 797.2,534.9 796.4,532.9 795.6,530.9 794.8,528.8 794,526.5 793.2,524.2 792.4,521.7 791.5,519.2 790.7,516.6 789.9,513.9 789,511.1 788.2,508.3 787.4,505.4 786.5,502.4 785.7,499.4 784.8,496.3 784,493.2 783.1,490 782.3,486.8 781.4,483.6 780.6,480.4 779.7,477.1 778.9,473.9 778,470.7 777.1,467.4 776.3,464.2 775.4,461 774.6,457.8 773.7,454.7 772.8,451.6 772,448.5 771.1,445.5 770.3,442.6 769.4,439.7 768.5,436.9 767.7,434.1 766.8,431.4 766,428.9 765.1,426.4 764.3,423.9 763.4,421.6 762.6,419.4 761.8,417.3 760.9,415.3 760.1,413.3 759.3,411.5 758.6,409.8 757.8,408.2 757,406.7 756.3,405.4 755.6,404.1 754.9,403 754.2,401.9 753.6,401 753,400.1 752.4,399.4 751.8,398.8 751.3,398.3 750.8,397.9 750.3,397.5 749.9,397.3 749.5,397.2 749.2,397.2 748.9,397.2 748.6,397.3 748.4,397.6 748.2,397.9 748,398.2 747.9,398.7 747.9,399.2 747.8,399.8 747.9,400.4 747.9,401.1" stroke-width="1.0"/>
<polyline points="748,401.3 748.1,402.1 748.2,402.9 748.5,403.8 748.7,404.7 749,405.7 749.4,406.7 749.7,407.8 750.2,408.9 750.6,410 751.1,411.1 751.7,412.3 752.3,413.5 752.9,414.7 753.6,416 754.3,417.2 755,418.5 755.8,419.8 756.6,421.2 757.4,422.5 758.3,423.8 759.2,425.2 760.1,426.6 761,427.9 762,429.3 763,430.7 764,432.2 765.1,433.6 766.2,435 767.2,436.5 768.3,437.9 769.5,439.4 770.6,440.9 771.7,442.5 772.9,444 774.1,445.6 775.2,447.1 776.4,448.8 777.6,450.4 778.8,452.1 780,453.7 781.1,455.5 782.3,457.2 783.5,459 784.7,460.8 785.8,462.7 787,464.6 788.1,466.5 789.2,468.5 790.3,470.5 791.4,472.5 792.5,474.6 793.5,476.7 794.6,478.8 795.6,481 796.6,483.2 797.5,485.4 798.4,487.7 799.3,489.9 800.2,492.2 801,494.5 801.8,496.8 802.6,499.1 803.3,501.5 804,503.8 804.7,506.1 805.3,508.4 805.9,510.7 806.5,512.9 807,515.2 807.5,517.4 807.9,519.5 808.3,521.7 808.7,523.8 809,525.8 809.3,527.8 809.5,529.7 809.7,531.6 809.9,533.3 810,535.1 810.1,536.7 810.2,538.2 810.2,539.7 810.1,541.1 810.1,542.4 810,543.6 809.8,544.6 809.6,545.6 809.4,546.5 809.2,547.2 808.9,547.9 808.6,548.4 808.2,548.8" stroke-dasharray="3.6 3.4"/>
<polyline points="822.7,494.6 822.3,494.7 821.9,494.6 821.4,494.5 820.9,494.2 820.4,493.7 819.9,493.1 819.3,492.4 818.8,491.6 818.2,490.6 817.5,489.5 816.9,488.3 816.2,486.9 815.6,485.4 814.9,483.8 814.2,482.1 813.5,480.2 812.7,478.2 812,476.1 811.3,473.9 810.5,471.6 809.7,469.2 809,466.7 808.2,464.1 807.4,461.4 806.6,458.6 805.8,455.7 805,452.8 804.2,449.8 803.4,446.7 802.6,443.5 801.8,440.3 801,437 800.1,433.7 799.3,430.4 798.5,427 797.6,423.6 796.8,420.2 795.9,416.8 795.1,413.3 794.2,409.9 793.4,406.5 792.5,403.1 791.6,399.7 790.7,396.3 789.8,393 788.9,389.7 788,386.4 787.1,383.2 786.2,380.1 785.3,377 784.4,374 783.5,371 782.5,368.2 781.6,365.4 780.7,362.7 779.7,360.1 778.8,357.6 777.8,355.2 776.9,353 776,350.8 775,348.7 774.1,346.7 773.2,344.9 772.3,343.1 771.4,341.5 770.6,340 769.7,338.6 768.9,337.4 768.1,336.2 767.3,335.2 766.6,334.2 765.8,333.4 765.1,332.7 764.5,332.1 763.9,331.6 763.3,331.2 762.7,330.9 762.2,330.7 761.8,330.6 761.4,330.6 761,330.6 760.7,330.8 760.4,331 760.2,331.3 760,331.7 759.9,332.2 759.8,332.7 759.8,333.3 759.9,333.9 759.9,334.6" stroke-width="1.0"/>
<polyline points="760,334.8 760.1,335.6 760.3,336.4 760.6,337.3 760.9,338.2 761.2,339.1 761.6,340.1 762.1,341.1 762.6,342.2 763.1,343.3 763.7,344.4 764.4,345.6 765.1,346.8 765.8,348 766.5,349.2 767.3,350.5 768.2,351.8 769.1,353.1 770,354.4 770.9,355.8 771.9,357.1 772.9,358.5 774,359.9 775.1,361.4 776.2,362.8 777.3,364.3 778.4,365.8 779.6,367.4 780.8,368.9 782,370.5 783.2,372.1 784.5,373.7 785.7,375.4 787,377.1 788.2,378.9 789.5,380.6 790.8,382.4 792.1,384.3 793.3,386.2 794.6,388.1 795.9,390.1 797.1,392.1 798.4,394.1 799.6,396.2 800.9,398.4 802.1,400.5 803.3,402.8 804.4,405 805.6,407.3 806.7,409.7 807.9,412.1 808.9,414.5 810,417 811,419.5 812,422 813,424.5 813.9,427.1 814.8,429.7 815.7,432.3 816.5,434.9 817.3,437.5 818.1,440.2 818.8,442.8 819.5,445.4 820.2,448 820.8,450.6 821.3,453.1 821.9,455.6 822.4,458.1 822.8,460.6 823.2,463 823.6,465.3 823.9,467.6 824.2,469.9 824.5,472.1 824.7,474.1 824.9,476.2 825,478.1 825.1,480 825.2,481.7 825.2,483.4 825.2,484.9 825.2,486.4 825.1,487.7 825,489 824.8,490.1 824.6,491.1 824.4,492 824.2,492.8 823.9,493.4 823.6,493.9 823.2,494.3 822.8,494.5" stroke-dasharray="3.6 3.4"/>
<polyline points="840,448.2 839.6,448.1 839.1,447.8 838.7,447.3 838.2,446.8 837.7,446.1 837.1,445.2 836.6,444.2 836,443 835.4,441.8 834.8,440.3 834.2,438.8 833.6,437.1 833,435.3 832.3,433.3 831.7,431.2 831,429 830.3,426.7 829.7,424.3 829,421.7 828.3,419.1 827.6,416.3 826.9,413.5 826.2,410.5 825.4,407.5 824.7,404.3 824,401.1 823.2,397.8 822.5,394.5 821.8,391.1 821,387.6 820.3,384 819.5,380.5 818.7,376.8 818,373.2 817.2,369.5 816.4,365.8 815.6,362.1 814.8,358.3 814,354.6 813.2,350.8 812.4,347.1 811.5,343.4 810.7,339.7 809.8,336 808.9,332.4 808.1,328.8 807.2,325.3 806.2,321.8 805.3,318.4 804.4,315.1 803.4,311.8 802.4,308.6 801.4,305.5 800.4,302.4 799.4,299.5 798.4,296.7 797.3,294 796.3,291.3 795.2,288.8 794.2,286.4 793.1,284.2 792,282 791,280 789.9,278.1 788.9,276.3 787.8,274.6 786.8,273.1 785.8,271.7 784.8,270.4 783.9,269.3 782.9,268.2 782,267.3 781.2,266.5 780.3,265.9 779.6,265.3 778.8,264.8 778.1,264.5 777.5,264.3 776.9,264.1 776.4,264.1 775.9,264.1 775.5,264.2 775.2,264.5 774.9,264.7 774.7,265.1 774.5,265.6 774.4,266.1 774.4,266.7 774.4,267.3 774.5,268" stroke-width="1.0"/>
<polyline points="774.6,268.2 774.7,269 775,269.8 775.3,270.7 775.7,271.6 776.1,272.6 776.6,273.6 777.2,274.7 777.8,275.8 778.4,276.9 779.2,278.1 779.9,279.4 780.8,280.6 781.7,281.9 782.6,283.2 783.6,284.6 784.6,286 785.6,287.4 786.7,288.9 787.8,290.4 789,292 790.2,293.6 791.4,295.2 792.7,296.8 794,298.5 795.3,300.3 796.6,302 798,303.9 799.3,305.7 800.7,307.6 802.1,309.6 803.5,311.6 804.9,313.6 806.3,315.7 807.7,317.8 809.1,320 810.5,322.3 811.9,324.6 813.3,326.9 814.6,329.3 816,331.8 817.3,334.3 818.7,336.8 820,339.4 821.2,342.1 822.5,344.8 823.7,347.5 824.9,350.3 826.1,353.1 827.2,356 828.3,358.9 829.4,361.8 830.4,364.8 831.4,367.8 832.3,370.8 833.3,373.8 834.1,376.8 835,379.8 835.8,382.9 836.5,385.9 837.2,388.9 837.9,391.9 838.5,394.9 839.1,397.9 839.7,400.8 840.2,403.7 840.6,406.5 841.1,409.3 841.5,412 841.8,414.7 842.1,417.3 842.4,419.8 842.6,422.3 842.8,424.7 842.9,427 843.1,429.2 843.1,431.2 843.2,433.2 843.2,435.1 843.2,436.9 843.1,438.5 843,440.1 842.9,441.5 842.8,442.8 842.6,443.9 842.4,444.9 842.1,445.8 841.9,446.6 841.6,447.2 841.2,447.7 840.9,448 840.5,448.2 840.1,448.2" stroke-dasharray="3.6 3.4"/>
<polyline points="860.4,413.2 860,412.8 859.5,412.2 859.1,411.5 858.6,410.6 858.1,409.5 857.6,408.3 857.1,407 856.6,405.5 856.1,403.9 855.5,402.1 855,400.2 854.5,398.1 853.9,395.9 853.4,393.6 852.8,391.2 852.2,388.6 851.7,385.9 851.1,383.1 850.6,380.2 850,377.1 849.4,374 848.9,370.7 848.3,367.4 847.7,364 847.1,360.5 846.6,356.9 846,353.2 845.4,349.5 844.9,345.7 844.3,341.8 843.7,337.9 843.2,334 842.6,330 842,326 841.4,321.9 840.8,317.8 840.2,313.7 839.6,309.6 839,305.5 838.4,301.4 837.8,297.3 837.1,293.2 836.4,289.1 835.8,285 835.1,281 834.4,277 833.6,273.1 832.9,269.2 832.1,265.4 831.3,261.6 830.4,257.9 829.6,254.3 828.7,250.8 827.7,247.3 826.8,244 825.8,240.7 824.8,237.6 823.8,234.5 822.7,231.6 821.6,228.8 820.5,226.1 819.3,223.5 818.1,221.1 817,218.8 815.8,216.6 814.5,214.5 813.3,212.7 812.1,210.9 810.9,209.3 809.7,207.8 808.5,206.5 807.4,205.3 806.3,204.2 805.2,203.3 804.1,202.4 803.1,201.8 802.2,201.2 801.3,200.8 800.5,200.5 799.7,200.3 799,200.2 798.4,200.2 797.9,200.4 797.5,200.6 797.1,200.9 796.9,201.3 796.7,201.8 796.6,202.4 796.6,203 796.7,203.7" stroke-width="1.0"/>
<polyline points="796.7,203.9 796.9,204.8 797.2,205.6 797.6,206.6 798,207.6 798.6,208.7 799.2,209.8 799.9,211.1 800.6,212.3 801.5,213.6 802.4,215 803.3,216.5 804.3,218 805.4,219.5 806.6,221.1 807.7,222.8 809,224.6 810.3,226.3 811.6,228.2 812.9,230.1 814.3,232.1 815.7,234.1 817.1,236.2 818.6,238.3 820.1,240.5 821.5,242.8 823,245.2 824.5,247.6 826.1,250 827.6,252.5 829.1,255.1 830.6,257.8 832.1,260.5 833.5,263.3 835,266.1 836.4,269 837.9,271.9 839.3,275 840.6,278 842,281.1 843.3,284.3 844.6,287.5 845.9,290.8 847.1,294.1 848.3,297.5 849.4,300.9 850.5,304.3 851.6,307.7 852.6,311.2 853.6,314.7 854.6,318.3 855.5,321.8 856.3,325.3 857.1,328.9 857.9,332.4 858.6,336 859.3,339.5 860,343 860.6,346.5 861.1,349.9 861.6,353.4 862.1,356.7 862.6,360.1 862.9,363.3 863.3,366.6 863.6,369.7 863.9,372.8 864.1,375.8 864.3,378.8 864.5,381.6 864.6,384.4 864.7,387 864.8,389.6 864.8,392 864.8,394.4 864.8,396.6 864.7,398.7 864.7,400.7 864.5,402.5 864.4,404.2 864.2,405.8 864,407.3 863.8,408.6 863.6,409.7 863.3,410.7 863,411.6 862.7,412.3 862.4,412.8 862.1,413.2 861.7,413.5 861.3,413.6 860.9,413.5 860.5,413.3" stroke-dasharray="3.6 3.4"/>
<polyline points="883.7,393.4 883.2,392.7 882.8,391.8 882.4,390.7 882,389.5 881.6,388.2 881.2,386.6 880.8,385 880.4,383.1 880,381.2 879.6,379.1 879.2,376.8 878.8,374.4 878.4,371.9 878,369.2 877.7,366.4 877.3,363.5 877,360.5 876.6,357.4 876.3,354.1 876,350.8 875.7,347.3 875.4,343.8 875.1,340.1 874.8,336.4 874.5,332.6 874.3,328.7 874,324.8 873.8,320.8 873.6,316.7 873.4,312.6 873.2,308.4 873.1,304.2 872.9,299.9 872.7,295.6 872.6,291.3 872.5,287 872.3,282.6 872.2,278.2 872.1,273.9 872,269.5 871.9,265.1 871.8,260.8 871.7,256.4 871.6,252.1 871.5,247.8 871.4,243.5 871.3,239.3 871.1,235.1 871,230.9 870.9,226.8 870.7,222.8 870.5,218.8 870.3,214.8 870,211 869.8,207.2 869.5,203.5 869.1,199.9 868.7,196.3 868.3,192.9 867.9,189.6 867.4,186.3 866.8,183.2 866.2,180.2 865.6,177.3 864.9,174.5 864.2,171.8 863.4,169.3 862.5,166.9 861.6,164.6 860.7,162.5 859.7,160.5 858.7,158.7 857.7,157 856.6,155.5 855.5,154.1 854.4,152.8 853.4,151.7 852.3,150.8 851.3,150 850.2,149.4 849.3,148.9 848.4,148.5 847.5,148.3 846.8,148.3 846.1,148.3 845.5,148.5 845,148.9 844.6,149.4 844.3,150 844.1,150.7" stroke-width="1.0"/>
<polyline points="844,150.9 844,151.7 844,152.7 844.1,153.8 844.4,155 844.7,156.3 845.1,157.7 845.6,159.3 846.2,160.9 846.9,162.6 847.7,164.4 848.5,166.3 849.4,168.3 850.3,170.5 851.3,172.6 852.3,174.9 853.4,177.3 854.5,179.8 855.6,182.3 856.7,185 857.9,187.7 859.1,190.5 860.3,193.4 861.5,196.4 862.7,199.4 863.9,202.5 865.1,205.7 866.3,209 867.4,212.3 868.6,215.7 869.7,219.2 870.9,222.7 872,226.3 873.1,229.9 874.1,233.6 875.2,237.4 876.2,241.2 877.2,245 878.1,248.9 879,252.9 879.9,256.8 880.8,260.8 881.6,264.8 882.3,268.9 883.1,272.9 883.8,277 884.5,281.1 885.1,285.2 885.7,289.2 886.3,293.3 886.8,297.4 887.3,301.4 887.7,305.5 888.2,309.5 888.5,313.5 888.9,317.4 889.2,321.3 889.5,325.1 889.7,328.9 889.9,332.7 890.1,336.4 890.2,340 890.4,343.5 890.4,347 890.5,350.4 890.5,353.7 890.5,356.8 890.5,359.9 890.4,362.9 890.3,365.8 890.2,368.6 890.1,371.2 890,373.8 889.8,376.2 889.6,378.4 889.4,380.6 889.1,382.6 888.9,384.4 888.6,386.1 888.4,387.7 888.1,389.1 887.8,390.3 887.5,391.4 887.1,392.4 886.8,393.2 886.4,393.8 886.1,394.3 885.7,394.5 885.3,394.7 884.9,394.6 884.5,394.4 884.2,394.1 883.8,393.6" stroke-dasharray="3.6 3.4"/>
<polyline points="908.2,391.7 907.9,390.7 907.6,389.6 907.3,388.2 907,386.7 906.7,385.1 906.4,383.3 906.2,381.4 905.9,379.3 905.7,377.1 905.5,374.8 905.3,372.3 905.1,369.7 905,366.9 904.8,364.1 904.7,361.1 904.7,358 904.6,354.9 904.6,351.6 904.6,348.2 904.6,344.7 904.6,341.2 904.7,337.5 904.8,333.8 904.9,330 905.1,326.2 905.3,322.3 905.5,318.3 905.8,314.3 906,310.3 906.4,306.2 906.7,302.1 907.1,298 907.5,293.8 908,289.6 908.5,285.4 909,281.2 909.5,277.1 910.1,272.9 910.7,268.7 911.4,264.5 912.1,260.4 912.8,256.2 913.5,252.1 914.3,248.1 915.1,244 915.9,240 916.8,236.1 917.7,232.2 918.6,228.3 919.5,224.5 920.4,220.8 921.4,217.1 922.4,213.4 923.4,209.9 924.4,206.4 925.4,203 926.4,199.6 927.4,196.3 928.5,193.2 929.5,190 930.5,187 931.5,184.1 932.5,181.2 933.5,178.4 934.4,175.8 935.3,173.2 936.2,170.7 937.1,168.3 937.9,166 938.6,163.8 939.3,161.7 940,159.7 940.5,157.8 941,156.1 941.5,154.4 941.8,152.8 942.1,151.4 942.2,150.1 942.3,148.9 942.3,147.8 942.2,146.8 941.9,146 941.6,145.3 941.2,144.7 940.7,144.3 940.2,144 939.5,143.8 938.8,143.8 938,144 937.1,144.2" stroke-width="1.0"/>
<polyline points="936.9,144.3 936,144.8 935.1,145.4 934.1,146.2 933.1,147.1 932.2,148.2 931.2,149.4 930.3,150.8 929.4,152.3 928.5,154 927.6,155.8 926.8,157.7 926.1,159.8 925.4,162.1 924.7,164.4 924.1,166.9 923.6,169.5 923.1,172.3 922.7,175.1 922.3,178.1 922,181.1 921.7,184.3 921.4,187.6 921.2,191 921,194.4 920.9,198 920.8,201.6 920.7,205.3 920.7,209.1 920.6,213 920.6,216.9 920.6,220.9 920.7,224.9 920.7,229 920.7,233.1 920.8,237.3 920.8,241.5 920.9,245.8 921,250.1 921,254.4 921.1,258.7 921.1,263 921.2,267.4 921.2,271.7 921.2,276.1 921.2,280.4 921.2,284.8 921.2,289.1 921.2,293.4 921.1,297.7 921.1,301.9 921,306.1 920.9,310.3 920.8,314.4 920.7,318.5 920.6,322.5 920.4,326.5 920.2,330.4 920.1,334.2 919.8,337.9 919.6,341.6 919.4,345.2 919.1,348.7 918.9,352 918.6,355.3 918.3,358.5 918,361.6 917.7,364.6 917.4,367.4 917,370.1 916.7,372.7 916.3,375.2 916,377.5 915.6,379.7 915.2,381.7 914.8,383.7 914.4,385.4 914.1,387 913.7,388.5 913.3,389.8 912.9,390.9 912.5,391.9 912.1,392.7 911.7,393.4 911.3,393.9 910.9,394.2 910.5,394.4 910.1,394.4 909.8,394.2 909.4,393.9 909,393.4 908.7,392.8 908.3,392" stroke-dasharray="3.6 3.4"/>
<polyline points="931.9,408.5 931.6,407.3 931.4,405.9 931.2,404.4 931.1,402.7 930.9,400.9 930.8,399 930.7,396.9 930.6,394.7 930.6,392.4 930.6,390 930.6,387.5 930.7,384.8 930.8,382.1 930.9,379.2 931,376.3 931.2,373.2 931.5,370.1 931.7,366.9 932,363.6 932.4,360.3 932.7,356.9 933.1,353.5 933.6,350 934.1,346.4 934.6,342.8 935.2,339.2 935.8,335.6 936.5,331.9 937.2,328.3 937.9,324.6 938.7,320.9 939.5,317.2 940.4,313.5 941.3,309.9 942.3,306.2 943.3,302.6 944.3,299 945.4,295.4 946.5,291.9 947.6,288.4 948.8,284.9 950,281.5 951.3,278.1 952.5,274.8 953.9,271.5 955.2,268.3 956.6,265.1 957.9,262 959.3,259 960.8,256 962.2,253.1 963.7,250.2 965.1,247.4 966.6,244.7 968.1,242.1 969.5,239.5 971,237 972.4,234.5 973.9,232.1 975.3,229.8 976.7,227.6 978.1,225.4 979.5,223.3 980.8,221.2 982.1,219.2 983.4,217.3 984.6,215.5 985.8,213.7 986.9,212 988,210.3 989,208.7 990,207.2 990.9,205.8 991.7,204.4 992.4,203.1 993.1,201.8 993.7,200.6 994.2,199.5 994.6,198.5 995,197.5 995.2,196.6 995.4,195.8 995.5,195 995.5,194.4 995.4,193.8 995.2,193.3 994.9,192.9 994.5,192.6 994,192.4 993.5,192.3" stroke-width="1.0"/>
<polyline points="993.3,192.3 992.7,192.4 992,192.5 991.2,192.8 990.3,193.2 989.4,193.7 988.4,194.4 987.4,195.1 986.3,196 985.2,197.1 984,198.3 982.9,199.6 981.7,201 980.5,202.6 979.3,204.4 978.1,206.3 977,208.3 975.8,210.4 974.6,212.7 973.5,215.2 972.4,217.7 971.3,220.4 970.3,223.2 969.3,226.2 968.3,229.2 967.4,232.4 966.4,235.6 965.6,239 964.7,242.4 963.9,246 963.1,249.6 962.3,253.3 961.6,257.1 960.9,260.9 960.2,264.8 959.6,268.8 958.9,272.8 958.3,276.8 957.7,280.9 957.2,285 956.6,289.1 956.1,293.3 955.5,297.4 955,301.6 954.5,305.8 954,309.9 953.5,314.1 953,318.2 952.5,322.3 952,326.4 951.5,330.5 951,334.5 950.5,338.4 950,342.4 949.5,346.2 949,350 948.5,353.7 948,357.4 947.5,360.9 946.9,364.4 946.4,367.8 945.9,371.1 945.4,374.3 944.9,377.4 944.3,380.4 943.8,383.3 943.3,386.1 942.8,388.8 942.2,391.3 941.7,393.7 941.2,396 940.7,398.1 940.2,400.1 939.7,402 939.2,403.7 938.7,405.3 938.2,406.8 937.7,408.1 937.2,409.2 936.7,410.2 936.3,411 935.8,411.7 935.4,412.2 935,412.6 934.6,412.8 934.2,412.8 933.8,412.7 933.4,412.4 933.1,412 932.8,411.4 932.5,410.7 932.2,409.8 931.9,408.8" stroke-dasharray="3.6 3.4"/>
<polyline points="952.8,441.1 952.7,439.7 952.6,438.2 952.5,436.6 952.4,434.9 952.4,433.1 952.4,431.1 952.5,429 952.6,426.8 952.7,424.6 952.8,422.2 953,419.7 953.3,417.2 953.5,414.5 953.8,411.8 954.2,409.1 954.6,406.2 955,403.3 955.4,400.4 955.9,397.4 956.5,394.3 957.1,391.2 957.7,388.1 958.4,385 959.1,381.9 959.8,378.7 960.6,375.5 961.4,372.4 962.3,369.2 963.2,366 964.1,362.9 965.1,359.8 966.1,356.7 967.2,353.6 968.3,350.5 969.4,347.5 970.6,344.5 971.8,341.6 973,338.7 974.2,335.9 975.5,333 976.8,330.3 978.1,327.6 979.4,324.9 980.7,322.3 982.1,319.8 983.5,317.3 984.9,314.8 986.2,312.4 987.6,310.1 989,307.8 990.4,305.6 991.8,303.4 993.2,301.2 994.6,299.2 995.9,297.1 997.3,295.2 998.6,293.2 999.9,291.3 1001.2,289.5 1002.5,287.7 1003.7,286 1004.9,284.3 1006.1,282.6 1007.2,281 1008.3,279.4 1009.4,277.9 1010.4,276.4 1011.4,274.9 1012.3,273.5 1013.2,272.2 1014,270.8 1014.8,269.6 1015.5,268.3 1016.2,267.1 1016.8,266 1017.4,264.9 1017.9,263.8 1018.3,262.8 1018.7,261.9 1019,261 1019.2,260.2 1019.4,259.4 1019.5,258.7 1019.5,258 1019.5,257.4 1019.4,256.9 1019.2,256.5 1019,256.1 1018.7,255.8 1018.3,255.6" stroke-width="1.0"/>
<polyline points="1018.2,255.6 1017.8,255.5 1017.3,255.5 1016.7,255.6 1016.1,255.8 1015.5,256.1 1014.8,256.5 1014,257 1013.2,257.6 1012.3,258.4 1011.5,259.3 1010.5,260.3 1009.6,261.4 1008.6,262.6 1007.6,264 1006.6,265.5 1005.6,267.1 1004.6,268.9 1003.5,270.8 1002.5,272.8 1001.4,274.9 1000.4,277.2 999.3,279.5 998.3,282 997.3,284.7 996.3,287.4 995.3,290.2 994.3,293.1 993.3,296.2 992.4,299.3 991.4,302.5 990.5,305.8 989.6,309.2 988.7,312.6 987.8,316.2 987,319.7 986.1,323.4 985.3,327 984.5,330.7 983.7,334.5 982.9,338.3 982.1,342.1 981.4,345.9 980.6,349.7 979.9,353.5 979.1,357.4 978.4,361.2 977.7,365 977,368.8 976.3,372.5 975.6,376.2 974.9,379.9 974.2,383.5 973.5,387.1 972.8,390.6 972.1,394 971.4,397.4 970.7,400.7 970,403.9 969.4,407 968.7,410.1 968,413 967.4,415.9 966.7,418.6 966,421.3 965.4,423.8 964.7,426.2 964.1,428.5 963.5,430.7 962.8,432.8 962.2,434.7 961.6,436.5 961,438.1 960.4,439.6 959.9,441 959.3,442.3 958.8,443.4 958.2,444.3 957.7,445.2 957.2,445.8 956.8,446.4 956.3,446.7 955.9,447 955.5,447.1 955.1,447 954.7,446.8 954.4,446.5 954,446 953.8,445.3 953.5,444.6 953.3,443.6 953,442.6 952.9,441.4" stroke-dasharray="3.6 3.4"/>
<polyline points="970.6,485.7 970.5,484.3 970.5,482.8 970.5,481.2 970.5,479.4 970.6,477.6 970.7,475.7 970.9,473.7 971.1,471.6 971.3,469.4 971.5,467.1 971.8,464.8 972.2,462.4 972.6,459.9 973,457.4 973.4,454.9 973.9,452.3 974.5,449.7 975.1,447 975.7,444.3 976.3,441.6 977,438.9 977.7,436.1 978.5,433.4 979.3,430.6 980.1,427.9 981,425.1 981.9,422.4 982.8,419.7 983.8,417 984.8,414.4 985.8,411.7 986.9,409.1 988,406.5 989.1,404 990.2,401.5 991.4,399 992.6,396.6 993.8,394.2 995,391.9 996.2,389.6 997.4,387.3 998.7,385.1 999.9,383 1001.2,380.9 1002.5,378.8 1003.7,376.7 1005,374.7 1006.3,372.8 1007.5,370.9 1008.8,369 1010,367.2 1011.3,365.4 1012.5,363.6 1013.7,361.9 1014.9,360.2 1016.1,358.5 1017.2,356.9 1018.4,355.2 1019.5,353.7 1020.5,352.1 1021.6,350.6 1022.6,349.1 1023.6,347.6 1024.6,346.2 1025.5,344.8 1026.4,343.4 1027.2,342 1028,340.7 1028.8,339.4 1029.5,338.1 1030.2,336.9 1030.8,335.7 1031.4,334.5 1032,333.4 1032.5,332.3 1032.9,331.2 1033.3,330.2 1033.7,329.2 1034,328.3 1034.2,327.4 1034.4,326.6 1034.5,325.9 1034.6,325.1 1034.7,324.5 1034.7,323.9 1034.6,323.4 1034.5,322.9 1034.3,322.5 1034.1,322.2 1033.8,322" stroke-width="1.0"/>
<polyline points="1033.7,322 1033.4,321.9 1033,321.8 1032.6,321.9 1032.1,322 1031.6,322.3 1031,322.6 1030.4,323.1 1029.8,323.6 1029.1,324.3 1028.4,325.1 1027.7,325.9 1026.9,326.9 1026.1,328.1 1025.3,329.3 1024.5,330.6 1023.6,332.1 1022.8,333.7 1021.9,335.4 1021,337.2 1020.1,339.2 1019.2,341.2 1018.3,343.4 1017.4,345.7 1016.4,348 1015.5,350.5 1014.6,353.1 1013.7,355.8 1012.8,358.6 1011.9,361.5 1011,364.4 1010.1,367.4 1009.2,370.6 1008.3,373.7 1007.5,377 1006.6,380.3 1005.7,383.6 1004.9,387 1004.1,390.5 1003.2,393.9 1002.4,397.4 1001.6,400.9 1000.7,404.5 999.9,408 999.1,411.5 998.3,415.1 997.5,418.6 996.7,422.1 996,425.5 995.2,429 994.4,432.4 993.6,435.7 992.8,439 992.1,442.3 991.3,445.5 990.5,448.6 989.8,451.7 989,454.6 988.3,457.5 987.5,460.3 986.8,463.1 986,465.7 985.3,468.2 984.6,470.6 983.8,472.9 983.1,475.1 982.4,477.2 981.7,479.2 981.1,481 980.4,482.7 979.7,484.3 979.1,485.8 978.4,487.1 977.8,488.4 977.2,489.4 976.7,490.4 976.1,491.2 975.6,491.9 975,492.4 974.6,492.8 974.1,493.1 973.6,493.2 973.2,493.2 972.8,493.1 972.5,492.8 972.1,492.4 971.8,491.9 971.5,491.2 971.3,490.4 971.1,489.5 970.9,488.5 970.7,487.3 970.6,486.1" stroke-dasharray="3.6 3.4"/>
<polyline points="985.7,538.9 985.6,537.4 985.7,535.9 985.7,534.3 985.8,532.6 986,530.8 986.1,528.9 986.3,527 986.6,525 986.9,523 987.2,520.8 987.6,518.7 988,516.4 988.5,514.2 989,511.9 989.5,509.5 990,507.2 990.6,504.8 991.3,502.4 991.9,500 992.7,497.5 993.4,495.1 994.2,492.7 995,490.2 995.8,487.8 996.7,485.4 997.6,483 998.5,480.6 999.5,478.3 1000.5,475.9 1001.5,473.6 1002.5,471.4 1003.5,469.1 1004.6,466.9 1005.7,464.7 1006.8,462.6 1007.9,460.4 1009.1,458.4 1010.2,456.3 1011.4,454.3 1012.5,452.3 1013.7,450.4 1014.9,448.5 1016,446.6 1017.2,444.8 1018.4,442.9 1019.6,441.2 1020.7,439.4 1021.9,437.7 1023.1,436 1024.2,434.3 1025.3,432.6 1026.4,431 1027.5,429.4 1028.6,427.8 1029.7,426.2 1030.8,424.7 1031.8,423.1 1032.8,421.6 1033.8,420.1 1034.7,418.6 1035.6,417.2 1036.5,415.7 1037.4,414.3 1038.2,412.9 1039,411.5 1039.8,410.1 1040.5,408.8 1041.2,407.4 1041.9,406.1 1042.5,404.9 1043.1,403.6 1043.6,402.4 1044.1,401.2 1044.6,400.1 1045,399 1045.4,397.9 1045.7,396.9 1046,395.9 1046.3,395 1046.5,394.1 1046.6,393.2 1046.8,392.5 1046.8,391.7 1046.9,391.1 1046.8,390.5 1046.8,390 1046.7,389.5 1046.5,389.2 1046.3,388.9 1046.1,388.7" stroke-width="1.0"/>
<polyline points="1046,388.6 1045.7,388.5 1045.4,388.5 1045.1,388.6 1044.7,388.7 1044.2,389 1043.8,389.3 1043.3,389.8 1042.7,390.4 1042.1,391 1041.6,391.8 1040.9,392.7 1040.3,393.7 1039.6,394.8 1038.9,396 1038.2,397.3 1037.5,398.8 1036.7,400.3 1036,402 1035.2,403.8 1034.4,405.7 1033.6,407.7 1032.8,409.8 1032,412 1031.2,414.3 1030.4,416.7 1029.5,419.2 1028.7,421.7 1027.9,424.4 1027,427.2 1026.2,430 1025.4,432.9 1024.5,435.9 1023.7,438.9 1022.9,442 1022.1,445.2 1021.2,448.4 1020.4,451.6 1019.6,454.9 1018.8,458.2 1018,461.5 1017.1,464.9 1016.3,468.2 1015.5,471.5 1014.7,474.9 1013.9,478.2 1013.1,481.5 1012.3,484.8 1011.5,488.1 1010.6,491.3 1009.8,494.5 1009,497.6 1008.2,500.7 1007.4,503.7 1006.6,506.7 1005.8,509.6 1005,512.4 1004.2,515.1 1003.4,517.7 1002.6,520.3 1001.9,522.7 1001.1,525.1 1000.3,527.4 999.5,529.5 998.8,531.5 998,533.5 997.3,535.3 996.6,537 995.9,538.6 995.2,540 994.5,541.3 993.8,542.6 993.2,543.6 992.5,544.6 991.9,545.4 991.3,546.1 990.8,546.7 990.2,547.1 989.7,547.5 989.2,547.6 988.7,547.7 988.3,547.6 987.9,547.5 987.5,547.2 987.2,546.7 986.9,546.2 986.6,545.5 986.3,544.7 986.1,543.8 986,542.8 985.8,541.7 985.7,540.5 985.7,539.2" stroke-dasharray="3.6 3.4"/>
<polyline points="1005.1,563.5 1005.2,563.3 1005.9,561.1 1006.7,558.9 1007.4,556.7 1008.2,554.5 1009.1,552.3 1009.9,550.1 1010.8,548 1011.8,545.8 1012.7,543.7 1013.7,541.6 1014.7,539.5 1015.7,537.4 1016.7,535.3 1017.7,533.3 1018.8,531.3 1019.9,529.3 1021,527.4 1022.1,525.5 1023.2,523.6 1024.3,521.7 1025.4,519.9 1026.5,518 1027.6,516.3 1028.8,514.5 1029.9,512.7 1031,511 1032.1,509.3 1033.3,507.6 1034.4,505.9 1035.5,504.3 1036.6,502.6 1037.6,501 1038.7,499.3 1039.7,497.7 1040.8,496.1 1041.8,494.5 1042.8,493 1043.7,491.4 1044.7,489.8 1045.6,488.3 1046.5,486.7 1047.4,485.2 1048.2,483.7 1049,482.2 1049.8,480.7 1050.6,479.2 1051.3,477.8 1052,476.3 1052.7,474.9 1053.3,473.5 1053.9,472.2 1054.4,470.8 1055,469.5 1055.4,468.2 1055.9,467 1056.3,465.8 1056.7,464.6 1057,463.5 1057.3,462.4 1057.5,461.4 1057.7,460.4 1057.9,459.5 1058,458.7 1058.1,457.9 1058.2,457.2 1058.2,456.5 1058.2,455.9 1058.1,455.4 1058,455 1057.9,454.6 1057.7,454.4 1057.5,454.2" stroke-width="1.0"/>
<polyline points="1057.4,454.1 1057.2,454.1 1056.9,454.1 1056.6,454.2 1056.2,454.4 1055.8,454.7 1055.4,455.2 1054.9,455.7 1054.5,456.3 1054,457 1053.4,457.9 1052.9,458.8 1052.3,459.9 1051.7,461 1051.1,462.3 1050.5,463.7 1049.8,465.2 1049.1,466.8 1048.4,468.5 1047.8,470.3 1047,472.3 1046.3,474.3 1045.6,476.4 1044.9,478.7 1044.1,481 1043.4,483.4 1042.6,485.9 1041.8,488.5 1041.1,491.2 1040.3,493.9 1039.5,496.7 1038.7,499.6 1037.9,502.6 1037.2,505.6 1036.4,508.7 1035.6,511.8 1034.8,514.9 1034,518.1 1033.2,521.3 1032.4,524.6 1031.6,527.8 1030.8,531.1 1030,534.3 1029.2,537.6 1028.4,540.9 1027.6,544.1 1026.7,547.3 1025.9,550.5 1025.1,553.6 1024.3,556.7 1023.5,559.8 1022.6,562.8 1022.4,563.5" stroke-dasharray="3.6 3.4"/>
<polyline points="1052.9,563.5 1053.6,562.2 1054.6,560.5 1055.6,558.8 1056.5,557.1 1057.4,555.5 1058.3,553.8 1059.1,552.1 1059.9,550.4 1060.7,548.8 1061.5,547.1 1062.3,545.5 1063,543.9 1063.6,542.3 1064.3,540.7 1064.9,539.2 1065.5,537.7 1066,536.2 1066.5,534.7 1067,533.3 1067.4,531.9 1067.8,530.6 1068.2,529.3 1068.5,528 1068.8,526.9 1069.1,525.7 1069.3,524.6 1069.5,523.6 1069.6,522.7 1069.7,521.8 1069.8,521 1069.9,520.2 1069.9,519.6 1069.8,519 1069.7,518.5 1069.6,518.1 1069.5,517.8 1069.3,517.6 1069.1,517.4" stroke-width="1.0"/>
<polyline points="1069.1,517.4 1068.8,517.4 1068.5,517.5 1068.2,517.7 1067.9,518 1067.5,518.4 1067.2,518.9 1066.7,519.5 1066.3,520.2 1065.8,521.1 1065.3,522 1064.8,523.1 1064.3,524.3 1063.8,525.5 1063.2,526.9 1062.6,528.4 1062,530 1061.4,531.8 1060.8,533.6 1060.1,535.5 1059.5,537.6 1058.8,539.7 1058.1,541.9 1057.4,544.3 1056.7,546.7 1056,549.2 1055.3,551.8 1054.6,554.5 1053.9,557.2 1053.2,560.1 1052.4,563 1052.3,563.5" stroke-dasharray="3.6 3.4"/>
</g>
<g fill="none" stroke-width="1.3">
<polyline points="753.4,563.5 754.7,556.8 756,550.2 757.3,543.5 758.6,536.8 759.9,530.2 761.3,523.5 762.6,516.8 763.9,510.1 765.2,503.4 766.5,496.8 767.9,490.1 769.2,483.4 770.6,476.8 772,470.2 773.4,463.5 774.8,456.9 776.2,450.3 777.6,443.8 779.1,437.2 780.6,430.7 782.1,424.2 783.6,417.7 785.2,411.2 786.8,404.8 788.4,398.5 790.1,392.1 791.8,385.8 793.5,379.6 795.3,373.4 797.1,367.2 799,361.1 800.9,355.1 802.9,349.1 805,343.2 807.1,337.4 809.2,331.7 811.5,326 813.8,320.5 816.2,315 818.7,309.7 821.2,304.4 823.9,299.3 826.6,294.4 829.5,289.6 832.4,284.9 835.5,280.4 838.6,276.1 841.9,272 845.3,268.1 848.8,264.4 852.4,260.9 856.1,257.7 860,254.7 863.9,252 867.9,249.6 872.1,247.5 876.3,245.7 880.5,244.2 884.9,243 889.3,242.2 893.7,241.7 898.1,241.5 902.5,241.7 906.9,242.2 911.3,243 915.7,244.2 919.9,245.7 924.1,247.5 928.3,249.6 932.3,252 936.2,254.7 940.1,257.7 943.8,260.9 947.4,264.4 950.9,268.1 954.3,272 957.6,276.1 960.7,280.4 963.8,284.9 966.7,289.6 969.6,294.4 972.3,299.3 975,304.4 977.5,309.7 980,315 982.4,320.5 984.7,326 987,331.7 989.1,337.4 991.2,343.2 993.3,349.1 995.3,355.1 997.2,361.1 999.1,367.2 1000.9,373.4 1002.7,379.6 1004.4,385.8 1006.1,392.1 1007.8,398.5 1009.4,404.8 1011,411.2 1012.6,417.7 1014.1,424.2 1015.6,430.7 1017.1,437.2 1018.6,443.8 1020,450.3 1021.4,456.9 1022.8,463.5 1024.2,470.2 1025.6,476.8 1027,483.4 1028.3,490.1 1029.7,496.8 1031,503.4 1032.3,510.1 1033.6,516.8 1034.9,523.5 1036.3,530.2 1037.6,536.8 1038.9,543.5 1040.2,550.2 1041.5,556.8 1042.8,563.5" stroke="#28c430" stroke-width="1.3"/>
<polyline points="753.4,563.5 754.7,556.8 756,550.2 757.3,543.5 758.6,536.8 759.9,530.2 761.3,523.5 762.6,516.8 763.9,510.1 765.2,503.4 766.5,496.8 767.9,490.1 769.2,483.4 770.6,476.8 772,470.2 773.4,463.5 774.8,456.9 776.2,450.3 777.6,443.8 779.1,437.2 780.6,430.7 782.1,424.2 783.6,417.7 785.2,411.2 786.8,404.8 788.4,398.5 790.1,392.1 791.8,385.8 793.5,379.6 795.3,373.4 797.1,367.2 799,361.1 800.9,355.1 802.9,349.1 805,343.2 807.1,337.4 809.2,331.7 811.5,326 813.8,320.5 816.2,315 818.7,309.7 821.2,304.4 823.9,299.3 826.6,294.4 829.5,289.6 832.4,284.9 835.5,280.4 838.6,276.1 841.9,272 845.3,268.1 848.8,264.4 852.4,260.9 856.1,257.7 860,254.7 863.9,252 867.9,249.6 872.1,247.5 876.3,245.7 880.5,244.2 884.9,243 889.3,242.2 893.7,241.7 898.1,241.5 902.5,241.7 906.9,242.2 911.3,243 915.7,244.2 919.9,245.7 924.1,247.5 928.3,249.6 932.3,252 936.2,254.7 940.1,257.7 943.8,260.9 947.4,264.4 950.9,268.1 954.3,272 957.6,276.1 960.7,280.4 963.8,284.9 966.7,289.6 969.6,294.4 972.3,299.3 975,304.4 977.5,309.7 980,315 982.4,320.5 984.7,326 987,331.7 989.1,337.4 991.2,343.2 993.3,349.1 995.3,355.1 997.2,361.1 999.1,367.2 1000.9,373.4 1002.7,379.6 1004.4,385.8 1006.1,392.1 1007.8,398.5 1009.4,404.8 1011,411.2 1012.6,417.7 1014.1,424.2 1015.6,430.7 1017.1,437.2 1018.6,443.8 1020,450.3 1021.4,456.9 1022.8,463.5 1024.2,470.2 1025.6,476.8 1027,483.4 1028.3,490.1 1029.7,496.8 1031,503.4 1032.3,510.1 1033.6,516.8 1034.9,523.5 1036.3,530.2 1037.6,536.8 1038.9,543.5 1040.2,550.2 1041.5,556.8 1042.8,563.5" stroke="#202034" stroke-width="1.3" stroke-dasharray="1.5 1.5 1.5 1.5 1.5 1.5 1.5 1.5 1.5 1.5 1.5 1.5 1.5 1.5 1.5 1.5 1.5 1.5 1.5 1.5 1.5 10"/>
<polyline points="753.4,563.5 754.7,556.8 756,550.2 757.3,543.5 758.6,536.8 759.9,530.2 761.3,523.5 762.6,516.8 763.9,510.1 765.2,503.4 766.5,496.8 767.9,490.1 769.2,483.4 770.6,476.8 772,470.2 773.4,463.5 774.8,456.9 776.2,450.3 777.6,443.8 779.1,437.2 780.6,430.7 782.1,424.2 783.6,417.7 785.2,411.2 786.8,404.8 788.4,398.5 790.1,392.1 791.8,385.8 793.5,379.6 795.3,373.4 797.1,367.2 799,361.1 800.9,355.1 802.9,349.1 805,343.2 807.1,337.4 809.2,331.7 811.5,326 813.8,320.5 816.2,315 818.7,309.7 821.2,304.4 823.9,299.3 826.6,294.4 829.5,289.6 832.4,284.9 835.5,280.4 838.6,276.1 841.9,272 845.3,268.1 848.8,264.4 852.4,260.9 856.1,257.7 860,254.7 863.9,252 867.9,249.6 872.1,247.5 876.3,245.7 880.5,244.2 884.9,243 889.3,242.2 893.7,241.7 898.1,241.5 902.5,241.7 906.9,242.2 911.3,243 915.7,244.2 919.9,245.7 924.1,247.5 928.3,249.6 932.3,252 936.2,254.7 940.1,257.7 943.8,260.9 947.4,264.4 950.9,268.1 954.3,272 957.6,276.1 960.7,280.4 963.8,284.9 966.7,289.6 969.6,294.4 972.3,299.3 975,304.4 977.5,309.7 980,315 982.4,320.5 984.7,326 987,331.7 989.1,337.4 991.2,343.2 993.3,349.1 995.3,355.1 997.2,361.1 999.1,367.2 1000.9,373.4 1002.7,379.6 1004.4,385.8 1006.1,392.1 1007.8,398.5 1009.4,404.8 1011,411.2 1012.6,417.7 1014.1,424.2 1015.6,430.7 1017.1,437.2 1018.6,443.8 1020,450.3 1021.4,456.9 1022.8,463.5 1024.2,470.2 1025.6,476.8 1027,483.4 1028.3,490.1 1029.7,496.8 1031,503.4 1032.3,510.1 1033.6,516.8 1034.9,523.5 1036.3,530.2 1037.6,536.8 1038.9,543.5 1040.2,550.2 1041.5,556.8 1042.8,563.5" stroke="#c81040" stroke-width="1.3" stroke-dasharray="1.5 10.5" stroke-dashoffset="-4.5"/>
</g>
</g>
<g font-size="9" fill="#e2a93c" text-anchor="middle">
<text x="721.4" y="525.9">6</text>
<text x="733.2" y="463.1">7</text>
<text x="744.5" y="397.7">8</text>
<text x="756.3" y="331.4">9</text>
<text x="768.6" y="264.1">10</text>
<text x="791.0" y="200.9">11</text>
<text x="838.4" y="147.8">12</text>
<text x="939.8" y="140.6">13</text>
<text x="997.2" y="189.0">14</text>
<text x="1022.4" y="251.5">15</text>
<text x="1038.6" y="317.9">16</text>
<text x="1050.1" y="384.4">17</text>
<text x="1061.2" y="449.4">18</text>
<text x="1072.7" y="512.2">19</text>
</g>
<circle cx="872.0" cy="248.3" r="4.4" fill="#2c5cc0" stroke="#2a3cb0" stroke-width="3" stroke-dasharray="1.6 1.6"/>
<path d="M866.6 248.3 h10.8 M872.0 242.9 v10.8" stroke="#183078" stroke-width="1" stroke-dasharray="1 1"/>
</svg></body></html>
